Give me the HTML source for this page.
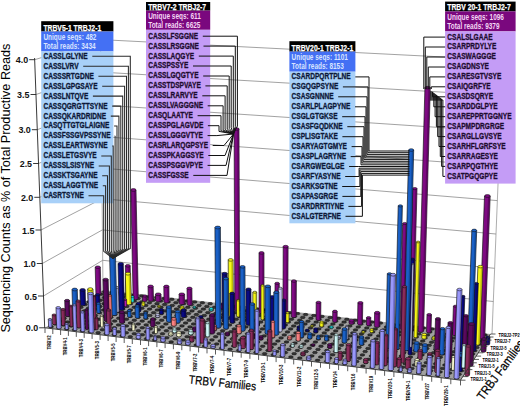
<!DOCTYPE html><html><head><meta charset="utf-8"><style>html,body{margin:0;padding:0;background:#fff;width:520px;height:407px;overflow:hidden}svg{display:block}text{font-family:"Liberation Sans",sans-serif}</style></head><body>
<svg width="520" height="407" viewBox="0 0 520 407">
<g fill="none" stroke="#7a7a7a" stroke-width="0.7"><polyline points="34.7,59.7 100.5,39.6 503,60"/><polyline points="36,94.5 100.8,72.1 501.5,95.6"/><polyline points="37.3,129.7 101.1,105 500.1,131.5"/><polyline points="38.6,163.5 101.5,136.5 498.7,166.1"/><polyline points="39.8,197.3 101.8,168.1 497.3,200.6"/><polyline points="41,230 102.1,198.7 496,234"/><polyline points="42.3,263.5 102.4,229.9 494.6,268.3"/><polyline points="43.5,296 102.7,260.3 493.3,301.5"/></g>
<line x1="103" y1="290" x2="100.5" y2="37" stroke="#8a8a8a" stroke-width="0.7"/>
<line x1="492" y1="334" x2="503" y2="60" stroke="#8a8a8a" stroke-width="0.7"/>
<polygon points="45,327.8 460.5,380.2 490.5,334 103,290" fill="#a0a0a0"/>
<g fill="#333" stroke="#111" stroke-width="0.5"><ellipse cx="51.1" cy="326.8" rx="2.4" ry="1.25"/><ellipse cx="58.9" cy="327.8" rx="2.4" ry="1.25"/><ellipse cx="66.7" cy="328.8" rx="2.4" ry="1.25"/><ellipse cx="74.5" cy="329.8" rx="2.4" ry="1.25"/><ellipse cx="82.4" cy="330.8" rx="2.4" ry="1.25"/><ellipse cx="90.3" cy="331.8" rx="2.4" ry="1.25"/><ellipse cx="98.2" cy="332.7" rx="2.4" ry="1.25"/><ellipse cx="106.2" cy="333.7" rx="2.4" ry="1.25"/><ellipse cx="114.2" cy="334.8" rx="2.4" ry="1.25"/><ellipse cx="122.2" cy="335.8" rx="2.4" ry="1.25"/><ellipse cx="130.3" cy="336.8" rx="2.4" ry="1.25"/><ellipse cx="138.4" cy="337.8" rx="2.4" ry="1.25"/><ellipse cx="146.5" cy="338.8" rx="2.4" ry="1.25"/><ellipse cx="154.7" cy="339.9" rx="2.4" ry="1.25"/><ellipse cx="163" cy="340.9" rx="2.4" ry="1.25"/><ellipse cx="171.2" cy="341.9" rx="2.4" ry="1.25"/><ellipse cx="179.5" cy="343" rx="2.4" ry="1.25"/><ellipse cx="187.9" cy="344" rx="2.4" ry="1.25"/><ellipse cx="196.2" cy="345.1" rx="2.4" ry="1.25"/><ellipse cx="204.6" cy="346.1" rx="2.4" ry="1.25"/><ellipse cx="213.1" cy="347.2" rx="2.4" ry="1.25"/><ellipse cx="221.6" cy="348.2" rx="2.4" ry="1.25"/><ellipse cx="230.1" cy="349.3" rx="2.4" ry="1.25"/><ellipse cx="238.7" cy="350.4" rx="2.4" ry="1.25"/><ellipse cx="247.3" cy="351.5" rx="2.4" ry="1.25"/><ellipse cx="255.9" cy="352.6" rx="2.4" ry="1.25"/><ellipse cx="264.6" cy="353.7" rx="2.4" ry="1.25"/><ellipse cx="273.3" cy="354.8" rx="2.4" ry="1.25"/><ellipse cx="282.1" cy="355.9" rx="2.4" ry="1.25"/><ellipse cx="290.9" cy="357" rx="2.4" ry="1.25"/><ellipse cx="299.8" cy="358.1" rx="2.4" ry="1.25"/><ellipse cx="308.7" cy="359.2" rx="2.4" ry="1.25"/><ellipse cx="317.6" cy="360.3" rx="2.4" ry="1.25"/><ellipse cx="326.6" cy="361.4" rx="2.4" ry="1.25"/><ellipse cx="335.6" cy="362.6" rx="2.4" ry="1.25"/><ellipse cx="344.7" cy="363.7" rx="2.4" ry="1.25"/><ellipse cx="353.8" cy="364.9" rx="2.4" ry="1.25"/><ellipse cx="362.9" cy="366" rx="2.4" ry="1.25"/><ellipse cx="372.1" cy="367.2" rx="2.4" ry="1.25"/><ellipse cx="381.3" cy="368.3" rx="2.4" ry="1.25"/><ellipse cx="390.6" cy="369.5" rx="2.4" ry="1.25"/><ellipse cx="399.9" cy="370.7" rx="2.4" ry="1.25"/><ellipse cx="409.3" cy="371.8" rx="2.4" ry="1.25"/><ellipse cx="418.7" cy="373" rx="2.4" ry="1.25"/><ellipse cx="428.2" cy="374.2" rx="2.4" ry="1.25"/><ellipse cx="437.7" cy="375.4" rx="2.4" ry="1.25"/><ellipse cx="447.2" cy="376.6" rx="2.4" ry="1.25"/><ellipse cx="456.8" cy="377.8" rx="2.4" ry="1.25"/><ellipse cx="55.5" cy="323.9" rx="2.4" ry="1.25"/><ellipse cx="63.2" cy="324.9" rx="2.4" ry="1.25"/><ellipse cx="71" cy="325.9" rx="2.4" ry="1.25"/><ellipse cx="78.8" cy="326.8" rx="2.4" ry="1.25"/><ellipse cx="86.6" cy="327.8" rx="2.4" ry="1.25"/><ellipse cx="94.5" cy="328.8" rx="2.4" ry="1.25"/><ellipse cx="102.4" cy="329.8" rx="2.4" ry="1.25"/><ellipse cx="110.3" cy="330.8" rx="2.4" ry="1.25"/><ellipse cx="118.3" cy="331.8" rx="2.4" ry="1.25"/><ellipse cx="126.3" cy="332.8" rx="2.4" ry="1.25"/><ellipse cx="134.3" cy="333.8" rx="2.4" ry="1.25"/><ellipse cx="142.4" cy="334.8" rx="2.4" ry="1.25"/><ellipse cx="150.5" cy="335.8" rx="2.4" ry="1.25"/><ellipse cx="158.7" cy="336.8" rx="2.4" ry="1.25"/><ellipse cx="166.8" cy="337.8" rx="2.4" ry="1.25"/><ellipse cx="175.1" cy="338.8" rx="2.4" ry="1.25"/><ellipse cx="183.3" cy="339.9" rx="2.4" ry="1.25"/><ellipse cx="191.6" cy="340.9" rx="2.4" ry="1.25"/><ellipse cx="200" cy="341.9" rx="2.4" ry="1.25"/><ellipse cx="208.3" cy="343" rx="2.4" ry="1.25"/><ellipse cx="216.7" cy="344" rx="2.4" ry="1.25"/><ellipse cx="225.2" cy="345.1" rx="2.4" ry="1.25"/><ellipse cx="233.7" cy="346.1" rx="2.4" ry="1.25"/><ellipse cx="242.2" cy="347.2" rx="2.4" ry="1.25"/><ellipse cx="250.8" cy="348.3" rx="2.4" ry="1.25"/><ellipse cx="259.4" cy="349.4" rx="2.4" ry="1.25"/><ellipse cx="268" cy="350.4" rx="2.4" ry="1.25"/><ellipse cx="276.7" cy="351.5" rx="2.4" ry="1.25"/><ellipse cx="285.4" cy="352.6" rx="2.4" ry="1.25"/><ellipse cx="294.2" cy="353.7" rx="2.4" ry="1.25"/><ellipse cx="303" cy="354.8" rx="2.4" ry="1.25"/><ellipse cx="311.8" cy="355.9" rx="2.4" ry="1.25"/><ellipse cx="320.7" cy="357" rx="2.4" ry="1.25"/><ellipse cx="329.6" cy="358.1" rx="2.4" ry="1.25"/><ellipse cx="338.6" cy="359.2" rx="2.4" ry="1.25"/><ellipse cx="347.6" cy="360.4" rx="2.4" ry="1.25"/><ellipse cx="356.7" cy="361.5" rx="2.4" ry="1.25"/><ellipse cx="365.8" cy="362.6" rx="2.4" ry="1.25"/><ellipse cx="374.9" cy="363.8" rx="2.4" ry="1.25"/><ellipse cx="384.1" cy="364.9" rx="2.4" ry="1.25"/><ellipse cx="393.3" cy="366.1" rx="2.4" ry="1.25"/><ellipse cx="402.6" cy="367.2" rx="2.4" ry="1.25"/><ellipse cx="411.9" cy="368.4" rx="2.4" ry="1.25"/><ellipse cx="421.3" cy="369.5" rx="2.4" ry="1.25"/><ellipse cx="430.7" cy="370.7" rx="2.4" ry="1.25"/><ellipse cx="440.1" cy="371.9" rx="2.4" ry="1.25"/><ellipse cx="449.6" cy="373.1" rx="2.4" ry="1.25"/><ellipse cx="459.2" cy="374.3" rx="2.4" ry="1.25"/><ellipse cx="59.9" cy="321.1" rx="2.4" ry="1.25"/><ellipse cx="67.6" cy="322" rx="2.4" ry="1.25"/><ellipse cx="75.3" cy="323" rx="2.4" ry="1.25"/><ellipse cx="83" cy="324" rx="2.4" ry="1.25"/><ellipse cx="90.8" cy="324.9" rx="2.4" ry="1.25"/><ellipse cx="98.7" cy="325.9" rx="2.4" ry="1.25"/><ellipse cx="106.5" cy="326.9" rx="2.4" ry="1.25"/><ellipse cx="114.4" cy="327.8" rx="2.4" ry="1.25"/><ellipse cx="122.4" cy="328.8" rx="2.4" ry="1.25"/><ellipse cx="130.3" cy="329.8" rx="2.4" ry="1.25"/><ellipse cx="138.3" cy="330.8" rx="2.4" ry="1.25"/><ellipse cx="146.4" cy="331.8" rx="2.4" ry="1.25"/><ellipse cx="154.4" cy="332.8" rx="2.4" ry="1.25"/><ellipse cx="162.5" cy="333.8" rx="2.4" ry="1.25"/><ellipse cx="170.7" cy="334.8" rx="2.4" ry="1.25"/><ellipse cx="178.9" cy="335.8" rx="2.4" ry="1.25"/><ellipse cx="187.1" cy="336.8" rx="2.4" ry="1.25"/><ellipse cx="195.3" cy="337.8" rx="2.4" ry="1.25"/><ellipse cx="203.6" cy="338.9" rx="2.4" ry="1.25"/><ellipse cx="212" cy="339.9" rx="2.4" ry="1.25"/><ellipse cx="220.3" cy="340.9" rx="2.4" ry="1.25"/><ellipse cx="228.7" cy="342" rx="2.4" ry="1.25"/><ellipse cx="237.2" cy="343" rx="2.4" ry="1.25"/><ellipse cx="245.7" cy="344.1" rx="2.4" ry="1.25"/><ellipse cx="254.2" cy="345.1" rx="2.4" ry="1.25"/><ellipse cx="262.7" cy="346.2" rx="2.4" ry="1.25"/><ellipse cx="271.3" cy="347.2" rx="2.4" ry="1.25"/><ellipse cx="280" cy="348.3" rx="2.4" ry="1.25"/><ellipse cx="288.7" cy="349.4" rx="2.4" ry="1.25"/><ellipse cx="297.4" cy="350.5" rx="2.4" ry="1.25"/><ellipse cx="306.1" cy="351.5" rx="2.4" ry="1.25"/><ellipse cx="314.9" cy="352.6" rx="2.4" ry="1.25"/><ellipse cx="323.8" cy="353.7" rx="2.4" ry="1.25"/><ellipse cx="332.7" cy="354.8" rx="2.4" ry="1.25"/><ellipse cx="341.6" cy="355.9" rx="2.4" ry="1.25"/><ellipse cx="350.5" cy="357" rx="2.4" ry="1.25"/><ellipse cx="359.5" cy="358.2" rx="2.4" ry="1.25"/><ellipse cx="368.6" cy="359.3" rx="2.4" ry="1.25"/><ellipse cx="377.7" cy="360.4" rx="2.4" ry="1.25"/><ellipse cx="386.8" cy="361.5" rx="2.4" ry="1.25"/><ellipse cx="396" cy="362.7" rx="2.4" ry="1.25"/><ellipse cx="405.2" cy="363.8" rx="2.4" ry="1.25"/><ellipse cx="414.5" cy="364.9" rx="2.4" ry="1.25"/><ellipse cx="423.8" cy="366.1" rx="2.4" ry="1.25"/><ellipse cx="433.2" cy="367.3" rx="2.4" ry="1.25"/><ellipse cx="442.6" cy="368.4" rx="2.4" ry="1.25"/><ellipse cx="452" cy="369.6" rx="2.4" ry="1.25"/><ellipse cx="461.5" cy="370.8" rx="2.4" ry="1.25"/><ellipse cx="64.2" cy="318.3" rx="2.4" ry="1.25"/><ellipse cx="71.8" cy="319.2" rx="2.4" ry="1.25"/><ellipse cx="79.5" cy="320.1" rx="2.4" ry="1.25"/><ellipse cx="87.2" cy="321.1" rx="2.4" ry="1.25"/><ellipse cx="95" cy="322" rx="2.4" ry="1.25"/><ellipse cx="102.8" cy="323" rx="2.4" ry="1.25"/><ellipse cx="110.6" cy="324" rx="2.4" ry="1.25"/><ellipse cx="118.5" cy="324.9" rx="2.4" ry="1.25"/><ellipse cx="126.4" cy="325.9" rx="2.4" ry="1.25"/><ellipse cx="134.3" cy="326.9" rx="2.4" ry="1.25"/><ellipse cx="142.3" cy="327.8" rx="2.4" ry="1.25"/><ellipse cx="150.3" cy="328.8" rx="2.4" ry="1.25"/><ellipse cx="158.3" cy="329.8" rx="2.4" ry="1.25"/><ellipse cx="166.4" cy="330.8" rx="2.4" ry="1.25"/><ellipse cx="174.5" cy="331.8" rx="2.4" ry="1.25"/><ellipse cx="182.6" cy="332.8" rx="2.4" ry="1.25"/><ellipse cx="190.8" cy="333.8" rx="2.4" ry="1.25"/><ellipse cx="199" cy="334.8" rx="2.4" ry="1.25"/><ellipse cx="207.3" cy="335.8" rx="2.4" ry="1.25"/><ellipse cx="215.6" cy="336.8" rx="2.4" ry="1.25"/><ellipse cx="223.9" cy="337.9" rx="2.4" ry="1.25"/><ellipse cx="232.3" cy="338.9" rx="2.4" ry="1.25"/><ellipse cx="240.7" cy="339.9" rx="2.4" ry="1.25"/><ellipse cx="249.1" cy="341" rx="2.4" ry="1.25"/><ellipse cx="257.6" cy="342" rx="2.4" ry="1.25"/><ellipse cx="266.1" cy="343" rx="2.4" ry="1.25"/><ellipse cx="274.6" cy="344.1" rx="2.4" ry="1.25"/><ellipse cx="283.2" cy="345.1" rx="2.4" ry="1.25"/><ellipse cx="291.9" cy="346.2" rx="2.4" ry="1.25"/><ellipse cx="300.5" cy="347.3" rx="2.4" ry="1.25"/><ellipse cx="309.3" cy="348.3" rx="2.4" ry="1.25"/><ellipse cx="318" cy="349.4" rx="2.4" ry="1.25"/><ellipse cx="326.8" cy="350.5" rx="2.4" ry="1.25"/><ellipse cx="335.6" cy="351.6" rx="2.4" ry="1.25"/><ellipse cx="344.5" cy="352.7" rx="2.4" ry="1.25"/><ellipse cx="353.4" cy="353.8" rx="2.4" ry="1.25"/><ellipse cx="362.4" cy="354.9" rx="2.4" ry="1.25"/><ellipse cx="371.4" cy="356" rx="2.4" ry="1.25"/><ellipse cx="380.4" cy="357.1" rx="2.4" ry="1.25"/><ellipse cx="389.5" cy="358.2" rx="2.4" ry="1.25"/><ellipse cx="398.6" cy="359.3" rx="2.4" ry="1.25"/><ellipse cx="407.8" cy="360.4" rx="2.4" ry="1.25"/><ellipse cx="417" cy="361.6" rx="2.4" ry="1.25"/><ellipse cx="426.3" cy="362.7" rx="2.4" ry="1.25"/><ellipse cx="435.6" cy="363.8" rx="2.4" ry="1.25"/><ellipse cx="444.9" cy="365" rx="2.4" ry="1.25"/><ellipse cx="454.3" cy="366.1" rx="2.4" ry="1.25"/><ellipse cx="463.8" cy="367.3" rx="2.4" ry="1.25"/><ellipse cx="68.4" cy="315.5" rx="2.4" ry="1.25"/><ellipse cx="76.1" cy="316.4" rx="2.4" ry="1.25"/><ellipse cx="83.7" cy="317.3" rx="2.4" ry="1.25"/><ellipse cx="91.4" cy="318.3" rx="2.4" ry="1.25"/><ellipse cx="99.1" cy="319.2" rx="2.4" ry="1.25"/><ellipse cx="106.9" cy="320.2" rx="2.4" ry="1.25"/><ellipse cx="114.7" cy="321.1" rx="2.4" ry="1.25"/><ellipse cx="122.5" cy="322.1" rx="2.4" ry="1.25"/><ellipse cx="130.4" cy="323" rx="2.4" ry="1.25"/><ellipse cx="138.3" cy="324" rx="2.4" ry="1.25"/><ellipse cx="146.2" cy="324.9" rx="2.4" ry="1.25"/><ellipse cx="154.1" cy="325.9" rx="2.4" ry="1.25"/><ellipse cx="162.1" cy="326.9" rx="2.4" ry="1.25"/><ellipse cx="170.2" cy="327.9" rx="2.4" ry="1.25"/><ellipse cx="178.2" cy="328.8" rx="2.4" ry="1.25"/><ellipse cx="186.3" cy="329.8" rx="2.4" ry="1.25"/><ellipse cx="194.5" cy="330.8" rx="2.4" ry="1.25"/><ellipse cx="202.7" cy="331.8" rx="2.4" ry="1.25"/><ellipse cx="210.9" cy="332.8" rx="2.4" ry="1.25"/><ellipse cx="219.1" cy="333.8" rx="2.4" ry="1.25"/><ellipse cx="227.4" cy="334.8" rx="2.4" ry="1.25"/><ellipse cx="235.7" cy="335.8" rx="2.4" ry="1.25"/><ellipse cx="244.1" cy="336.9" rx="2.4" ry="1.25"/><ellipse cx="252.5" cy="337.9" rx="2.4" ry="1.25"/><ellipse cx="260.9" cy="338.9" rx="2.4" ry="1.25"/><ellipse cx="269.4" cy="339.9" rx="2.4" ry="1.25"/><ellipse cx="277.9" cy="341" rx="2.4" ry="1.25"/><ellipse cx="286.5" cy="342" rx="2.4" ry="1.25"/><ellipse cx="295" cy="343.1" rx="2.4" ry="1.25"/><ellipse cx="303.7" cy="344.1" rx="2.4" ry="1.25"/><ellipse cx="312.3" cy="345.2" rx="2.4" ry="1.25"/><ellipse cx="321" cy="346.2" rx="2.4" ry="1.25"/><ellipse cx="329.8" cy="347.3" rx="2.4" ry="1.25"/><ellipse cx="338.6" cy="348.4" rx="2.4" ry="1.25"/><ellipse cx="347.4" cy="349.5" rx="2.4" ry="1.25"/><ellipse cx="356.3" cy="350.5" rx="2.4" ry="1.25"/><ellipse cx="365.2" cy="351.6" rx="2.4" ry="1.25"/><ellipse cx="374.1" cy="352.7" rx="2.4" ry="1.25"/><ellipse cx="383.1" cy="353.8" rx="2.4" ry="1.25"/><ellipse cx="392.2" cy="354.9" rx="2.4" ry="1.25"/><ellipse cx="401.3" cy="356" rx="2.4" ry="1.25"/><ellipse cx="410.4" cy="357.1" rx="2.4" ry="1.25"/><ellipse cx="419.5" cy="358.2" rx="2.4" ry="1.25"/><ellipse cx="428.7" cy="359.4" rx="2.4" ry="1.25"/><ellipse cx="438" cy="360.5" rx="2.4" ry="1.25"/><ellipse cx="447.3" cy="361.6" rx="2.4" ry="1.25"/><ellipse cx="456.6" cy="362.8" rx="2.4" ry="1.25"/><ellipse cx="466" cy="363.9" rx="2.4" ry="1.25"/><ellipse cx="72.6" cy="312.7" rx="2.4" ry="1.25"/><ellipse cx="80.2" cy="313.6" rx="2.4" ry="1.25"/><ellipse cx="87.9" cy="314.5" rx="2.4" ry="1.25"/><ellipse cx="95.5" cy="315.5" rx="2.4" ry="1.25"/><ellipse cx="103.2" cy="316.4" rx="2.4" ry="1.25"/><ellipse cx="110.9" cy="317.3" rx="2.4" ry="1.25"/><ellipse cx="118.7" cy="318.3" rx="2.4" ry="1.25"/><ellipse cx="126.5" cy="319.2" rx="2.4" ry="1.25"/><ellipse cx="134.3" cy="320.2" rx="2.4" ry="1.25"/><ellipse cx="142.2" cy="321.1" rx="2.4" ry="1.25"/><ellipse cx="150" cy="322.1" rx="2.4" ry="1.25"/><ellipse cx="158" cy="323" rx="2.4" ry="1.25"/><ellipse cx="165.9" cy="324" rx="2.4" ry="1.25"/><ellipse cx="173.9" cy="324.9" rx="2.4" ry="1.25"/><ellipse cx="182" cy="325.9" rx="2.4" ry="1.25"/><ellipse cx="190" cy="326.9" rx="2.4" ry="1.25"/><ellipse cx="198.1" cy="327.9" rx="2.4" ry="1.25"/><ellipse cx="206.3" cy="328.9" rx="2.4" ry="1.25"/><ellipse cx="214.4" cy="329.8" rx="2.4" ry="1.25"/><ellipse cx="222.6" cy="330.8" rx="2.4" ry="1.25"/><ellipse cx="230.9" cy="331.8" rx="2.4" ry="1.25"/><ellipse cx="239.2" cy="332.8" rx="2.4" ry="1.25"/><ellipse cx="247.5" cy="333.8" rx="2.4" ry="1.25"/><ellipse cx="255.8" cy="334.9" rx="2.4" ry="1.25"/><ellipse cx="264.2" cy="335.9" rx="2.4" ry="1.25"/><ellipse cx="272.7" cy="336.9" rx="2.4" ry="1.25"/><ellipse cx="281.1" cy="337.9" rx="2.4" ry="1.25"/><ellipse cx="289.6" cy="338.9" rx="2.4" ry="1.25"/><ellipse cx="298.2" cy="340" rx="2.4" ry="1.25"/><ellipse cx="306.8" cy="341" rx="2.4" ry="1.25"/><ellipse cx="315.4" cy="342.1" rx="2.4" ry="1.25"/><ellipse cx="324.1" cy="343.1" rx="2.4" ry="1.25"/><ellipse cx="332.8" cy="344.1" rx="2.4" ry="1.25"/><ellipse cx="341.5" cy="345.2" rx="2.4" ry="1.25"/><ellipse cx="350.3" cy="346.3" rx="2.4" ry="1.25"/><ellipse cx="359.1" cy="347.3" rx="2.4" ry="1.25"/><ellipse cx="368" cy="348.4" rx="2.4" ry="1.25"/><ellipse cx="376.9" cy="349.5" rx="2.4" ry="1.25"/><ellipse cx="385.8" cy="350.6" rx="2.4" ry="1.25"/><ellipse cx="394.8" cy="351.7" rx="2.4" ry="1.25"/><ellipse cx="403.8" cy="352.7" rx="2.4" ry="1.25"/><ellipse cx="412.9" cy="353.8" rx="2.4" ry="1.25"/><ellipse cx="422" cy="354.9" rx="2.4" ry="1.25"/><ellipse cx="431.2" cy="356" rx="2.4" ry="1.25"/><ellipse cx="440.4" cy="357.2" rx="2.4" ry="1.25"/><ellipse cx="449.6" cy="358.3" rx="2.4" ry="1.25"/><ellipse cx="458.9" cy="359.4" rx="2.4" ry="1.25"/><ellipse cx="468.2" cy="360.5" rx="2.4" ry="1.25"/><ellipse cx="76.8" cy="310" rx="2.4" ry="1.25"/><ellipse cx="84.4" cy="310.9" rx="2.4" ry="1.25"/><ellipse cx="92" cy="311.8" rx="2.4" ry="1.25"/><ellipse cx="99.6" cy="312.7" rx="2.4" ry="1.25"/><ellipse cx="107.2" cy="313.6" rx="2.4" ry="1.25"/><ellipse cx="114.9" cy="314.5" rx="2.4" ry="1.25"/><ellipse cx="122.6" cy="315.5" rx="2.4" ry="1.25"/><ellipse cx="130.4" cy="316.4" rx="2.4" ry="1.25"/><ellipse cx="138.2" cy="317.3" rx="2.4" ry="1.25"/><ellipse cx="146" cy="318.3" rx="2.4" ry="1.25"/><ellipse cx="153.9" cy="319.2" rx="2.4" ry="1.25"/><ellipse cx="161.7" cy="320.2" rx="2.4" ry="1.25"/><ellipse cx="169.7" cy="321.1" rx="2.4" ry="1.25"/><ellipse cx="177.6" cy="322.1" rx="2.4" ry="1.25"/><ellipse cx="185.6" cy="323" rx="2.4" ry="1.25"/><ellipse cx="193.6" cy="324" rx="2.4" ry="1.25"/><ellipse cx="201.7" cy="325" rx="2.4" ry="1.25"/><ellipse cx="209.8" cy="325.9" rx="2.4" ry="1.25"/><ellipse cx="217.9" cy="326.9" rx="2.4" ry="1.25"/><ellipse cx="226.1" cy="327.9" rx="2.4" ry="1.25"/><ellipse cx="234.3" cy="328.9" rx="2.4" ry="1.25"/><ellipse cx="242.6" cy="329.9" rx="2.4" ry="1.25"/><ellipse cx="250.8" cy="330.9" rx="2.4" ry="1.25"/><ellipse cx="259.1" cy="331.9" rx="2.4" ry="1.25"/><ellipse cx="267.5" cy="332.9" rx="2.4" ry="1.25"/><ellipse cx="275.9" cy="333.9" rx="2.4" ry="1.25"/><ellipse cx="284.3" cy="334.9" rx="2.4" ry="1.25"/><ellipse cx="292.8" cy="335.9" rx="2.4" ry="1.25"/><ellipse cx="301.3" cy="336.9" rx="2.4" ry="1.25"/><ellipse cx="309.8" cy="337.9" rx="2.4" ry="1.25"/><ellipse cx="318.4" cy="339" rx="2.4" ry="1.25"/><ellipse cx="327" cy="340" rx="2.4" ry="1.25"/><ellipse cx="335.7" cy="341" rx="2.4" ry="1.25"/><ellipse cx="344.4" cy="342.1" rx="2.4" ry="1.25"/><ellipse cx="353.1" cy="343.1" rx="2.4" ry="1.25"/><ellipse cx="361.9" cy="344.2" rx="2.4" ry="1.25"/><ellipse cx="370.7" cy="345.2" rx="2.4" ry="1.25"/><ellipse cx="379.6" cy="346.3" rx="2.4" ry="1.25"/><ellipse cx="388.5" cy="347.4" rx="2.4" ry="1.25"/><ellipse cx="397.4" cy="348.4" rx="2.4" ry="1.25"/><ellipse cx="406.4" cy="349.5" rx="2.4" ry="1.25"/><ellipse cx="415.4" cy="350.6" rx="2.4" ry="1.25"/><ellipse cx="424.5" cy="351.7" rx="2.4" ry="1.25"/><ellipse cx="433.6" cy="352.8" rx="2.4" ry="1.25"/><ellipse cx="442.7" cy="353.9" rx="2.4" ry="1.25"/><ellipse cx="451.9" cy="355" rx="2.4" ry="1.25"/><ellipse cx="461.1" cy="356.1" rx="2.4" ry="1.25"/><ellipse cx="470.4" cy="357.2" rx="2.4" ry="1.25"/><ellipse cx="80.9" cy="307.3" rx="2.4" ry="1.25"/><ellipse cx="88.5" cy="308.2" rx="2.4" ry="1.25"/><ellipse cx="96" cy="309.1" rx="2.4" ry="1.25"/><ellipse cx="103.6" cy="310" rx="2.4" ry="1.25"/><ellipse cx="111.2" cy="310.9" rx="2.4" ry="1.25"/><ellipse cx="118.9" cy="311.8" rx="2.4" ry="1.25"/><ellipse cx="126.6" cy="312.7" rx="2.4" ry="1.25"/><ellipse cx="134.3" cy="313.6" rx="2.4" ry="1.25"/><ellipse cx="142" cy="314.5" rx="2.4" ry="1.25"/><ellipse cx="149.8" cy="315.5" rx="2.4" ry="1.25"/><ellipse cx="157.6" cy="316.4" rx="2.4" ry="1.25"/><ellipse cx="165.5" cy="317.3" rx="2.4" ry="1.25"/><ellipse cx="173.4" cy="318.3" rx="2.4" ry="1.25"/><ellipse cx="181.3" cy="319.2" rx="2.4" ry="1.25"/><ellipse cx="189.2" cy="320.2" rx="2.4" ry="1.25"/><ellipse cx="197.2" cy="321.1" rx="2.4" ry="1.25"/><ellipse cx="205.3" cy="322.1" rx="2.4" ry="1.25"/><ellipse cx="213.3" cy="323" rx="2.4" ry="1.25"/><ellipse cx="221.4" cy="324" rx="2.4" ry="1.25"/><ellipse cx="229.5" cy="325" rx="2.4" ry="1.25"/><ellipse cx="237.7" cy="325.9" rx="2.4" ry="1.25"/><ellipse cx="245.9" cy="326.9" rx="2.4" ry="1.25"/><ellipse cx="254.1" cy="327.9" rx="2.4" ry="1.25"/><ellipse cx="262.4" cy="328.9" rx="2.4" ry="1.25"/><ellipse cx="270.7" cy="329.9" rx="2.4" ry="1.25"/><ellipse cx="279.1" cy="330.9" rx="2.4" ry="1.25"/><ellipse cx="287.5" cy="331.9" rx="2.4" ry="1.25"/><ellipse cx="295.9" cy="332.9" rx="2.4" ry="1.25"/><ellipse cx="304.3" cy="333.9" rx="2.4" ry="1.25"/><ellipse cx="312.8" cy="334.9" rx="2.4" ry="1.25"/><ellipse cx="321.4" cy="335.9" rx="2.4" ry="1.25"/><ellipse cx="330" cy="336.9" rx="2.4" ry="1.25"/><ellipse cx="338.6" cy="338" rx="2.4" ry="1.25"/><ellipse cx="347.2" cy="339" rx="2.4" ry="1.25"/><ellipse cx="355.9" cy="340" rx="2.4" ry="1.25"/><ellipse cx="364.6" cy="341.1" rx="2.4" ry="1.25"/><ellipse cx="373.4" cy="342.1" rx="2.4" ry="1.25"/><ellipse cx="382.2" cy="343.2" rx="2.4" ry="1.25"/><ellipse cx="391.1" cy="344.2" rx="2.4" ry="1.25"/><ellipse cx="400" cy="345.3" rx="2.4" ry="1.25"/><ellipse cx="408.9" cy="346.3" rx="2.4" ry="1.25"/><ellipse cx="417.9" cy="347.4" rx="2.4" ry="1.25"/><ellipse cx="426.9" cy="348.5" rx="2.4" ry="1.25"/><ellipse cx="435.9" cy="349.5" rx="2.4" ry="1.25"/><ellipse cx="445" cy="350.6" rx="2.4" ry="1.25"/><ellipse cx="454.2" cy="351.7" rx="2.4" ry="1.25"/><ellipse cx="463.4" cy="352.8" rx="2.4" ry="1.25"/><ellipse cx="472.6" cy="353.9" rx="2.4" ry="1.25"/><ellipse cx="85" cy="304.6" rx="2.4" ry="1.25"/><ellipse cx="92.5" cy="305.5" rx="2.4" ry="1.25"/><ellipse cx="100" cy="306.4" rx="2.4" ry="1.25"/><ellipse cx="107.6" cy="307.3" rx="2.4" ry="1.25"/><ellipse cx="115.2" cy="308.2" rx="2.4" ry="1.25"/><ellipse cx="122.8" cy="309.1" rx="2.4" ry="1.25"/><ellipse cx="130.4" cy="310" rx="2.4" ry="1.25"/><ellipse cx="138.1" cy="310.9" rx="2.4" ry="1.25"/><ellipse cx="145.8" cy="311.8" rx="2.4" ry="1.25"/><ellipse cx="153.6" cy="312.7" rx="2.4" ry="1.25"/><ellipse cx="161.4" cy="313.6" rx="2.4" ry="1.25"/><ellipse cx="169.2" cy="314.6" rx="2.4" ry="1.25"/><ellipse cx="177" cy="315.5" rx="2.4" ry="1.25"/><ellipse cx="184.9" cy="316.4" rx="2.4" ry="1.25"/><ellipse cx="192.8" cy="317.3" rx="2.4" ry="1.25"/><ellipse cx="200.8" cy="318.3" rx="2.4" ry="1.25"/><ellipse cx="208.8" cy="319.2" rx="2.4" ry="1.25"/><ellipse cx="216.8" cy="320.2" rx="2.4" ry="1.25"/><ellipse cx="224.8" cy="321.1" rx="2.4" ry="1.25"/><ellipse cx="232.9" cy="322.1" rx="2.4" ry="1.25"/><ellipse cx="241.1" cy="323" rx="2.4" ry="1.25"/><ellipse cx="249.2" cy="324" rx="2.4" ry="1.25"/><ellipse cx="257.4" cy="325" rx="2.4" ry="1.25"/><ellipse cx="265.7" cy="326" rx="2.4" ry="1.25"/><ellipse cx="273.9" cy="326.9" rx="2.4" ry="1.25"/><ellipse cx="282.2" cy="327.9" rx="2.4" ry="1.25"/><ellipse cx="290.6" cy="328.9" rx="2.4" ry="1.25"/><ellipse cx="299" cy="329.9" rx="2.4" ry="1.25"/><ellipse cx="307.4" cy="330.9" rx="2.4" ry="1.25"/><ellipse cx="315.8" cy="331.9" rx="2.4" ry="1.25"/><ellipse cx="324.3" cy="332.9" rx="2.4" ry="1.25"/><ellipse cx="332.8" cy="333.9" rx="2.4" ry="1.25"/><ellipse cx="341.4" cy="334.9" rx="2.4" ry="1.25"/><ellipse cx="350" cy="335.9" rx="2.4" ry="1.25"/><ellipse cx="358.7" cy="336.9" rx="2.4" ry="1.25"/><ellipse cx="367.4" cy="338" rx="2.4" ry="1.25"/><ellipse cx="376.1" cy="339" rx="2.4" ry="1.25"/><ellipse cx="384.8" cy="340" rx="2.4" ry="1.25"/><ellipse cx="393.6" cy="341.1" rx="2.4" ry="1.25"/><ellipse cx="402.5" cy="342.1" rx="2.4" ry="1.25"/><ellipse cx="411.4" cy="343.2" rx="2.4" ry="1.25"/><ellipse cx="420.3" cy="344.2" rx="2.4" ry="1.25"/><ellipse cx="429.3" cy="345.3" rx="2.4" ry="1.25"/><ellipse cx="438.3" cy="346.4" rx="2.4" ry="1.25"/><ellipse cx="447.3" cy="347.4" rx="2.4" ry="1.25"/><ellipse cx="456.4" cy="348.5" rx="2.4" ry="1.25"/><ellipse cx="465.5" cy="349.6" rx="2.4" ry="1.25"/><ellipse cx="474.7" cy="350.7" rx="2.4" ry="1.25"/><ellipse cx="89" cy="302" rx="2.4" ry="1.25"/><ellipse cx="96.5" cy="302.8" rx="2.4" ry="1.25"/><ellipse cx="104" cy="303.7" rx="2.4" ry="1.25"/><ellipse cx="111.5" cy="304.6" rx="2.4" ry="1.25"/><ellipse cx="119.1" cy="305.5" rx="2.4" ry="1.25"/><ellipse cx="126.7" cy="306.4" rx="2.4" ry="1.25"/><ellipse cx="134.3" cy="307.3" rx="2.4" ry="1.25"/><ellipse cx="141.9" cy="308.2" rx="2.4" ry="1.25"/><ellipse cx="149.6" cy="309.1" rx="2.4" ry="1.25"/><ellipse cx="157.3" cy="310" rx="2.4" ry="1.25"/><ellipse cx="165.1" cy="310.9" rx="2.4" ry="1.25"/><ellipse cx="172.8" cy="311.8" rx="2.4" ry="1.25"/><ellipse cx="180.7" cy="312.7" rx="2.4" ry="1.25"/><ellipse cx="188.5" cy="313.6" rx="2.4" ry="1.25"/><ellipse cx="196.4" cy="314.6" rx="2.4" ry="1.25"/><ellipse cx="204.3" cy="315.5" rx="2.4" ry="1.25"/><ellipse cx="212.2" cy="316.4" rx="2.4" ry="1.25"/><ellipse cx="220.2" cy="317.4" rx="2.4" ry="1.25"/><ellipse cx="228.2" cy="318.3" rx="2.4" ry="1.25"/><ellipse cx="236.3" cy="319.2" rx="2.4" ry="1.25"/><ellipse cx="244.4" cy="320.2" rx="2.4" ry="1.25"/><ellipse cx="252.5" cy="321.1" rx="2.4" ry="1.25"/><ellipse cx="260.7" cy="322.1" rx="2.4" ry="1.25"/><ellipse cx="268.9" cy="323.1" rx="2.4" ry="1.25"/><ellipse cx="277.1" cy="324" rx="2.4" ry="1.25"/><ellipse cx="285.3" cy="325" rx="2.4" ry="1.25"/><ellipse cx="293.7" cy="326" rx="2.4" ry="1.25"/><ellipse cx="302" cy="326.9" rx="2.4" ry="1.25"/><ellipse cx="310.4" cy="327.9" rx="2.4" ry="1.25"/><ellipse cx="318.8" cy="328.9" rx="2.4" ry="1.25"/><ellipse cx="327.2" cy="329.9" rx="2.4" ry="1.25"/><ellipse cx="335.7" cy="330.9" rx="2.4" ry="1.25"/><ellipse cx="344.2" cy="331.9" rx="2.4" ry="1.25"/><ellipse cx="352.8" cy="332.9" rx="2.4" ry="1.25"/><ellipse cx="361.4" cy="333.9" rx="2.4" ry="1.25"/><ellipse cx="370" cy="334.9" rx="2.4" ry="1.25"/><ellipse cx="378.7" cy="335.9" rx="2.4" ry="1.25"/><ellipse cx="387.4" cy="337" rx="2.4" ry="1.25"/><ellipse cx="396.2" cy="338" rx="2.4" ry="1.25"/><ellipse cx="405" cy="339" rx="2.4" ry="1.25"/><ellipse cx="413.8" cy="340.1" rx="2.4" ry="1.25"/><ellipse cx="422.7" cy="341.1" rx="2.4" ry="1.25"/><ellipse cx="431.6" cy="342.2" rx="2.4" ry="1.25"/><ellipse cx="440.6" cy="343.2" rx="2.4" ry="1.25"/><ellipse cx="449.6" cy="344.3" rx="2.4" ry="1.25"/><ellipse cx="458.6" cy="345.3" rx="2.4" ry="1.25"/><ellipse cx="467.7" cy="346.4" rx="2.4" ry="1.25"/><ellipse cx="476.8" cy="347.5" rx="2.4" ry="1.25"/><ellipse cx="93" cy="299.3" rx="2.4" ry="1.25"/><ellipse cx="100.5" cy="300.2" rx="2.4" ry="1.25"/><ellipse cx="107.9" cy="301.1" rx="2.4" ry="1.25"/><ellipse cx="115.4" cy="301.9" rx="2.4" ry="1.25"/><ellipse cx="122.9" cy="302.8" rx="2.4" ry="1.25"/><ellipse cx="130.5" cy="303.7" rx="2.4" ry="1.25"/><ellipse cx="138.1" cy="304.6" rx="2.4" ry="1.25"/><ellipse cx="145.7" cy="305.5" rx="2.4" ry="1.25"/><ellipse cx="153.3" cy="306.4" rx="2.4" ry="1.25"/><ellipse cx="161" cy="307.3" rx="2.4" ry="1.25"/><ellipse cx="168.7" cy="308.2" rx="2.4" ry="1.25"/><ellipse cx="176.5" cy="309.1" rx="2.4" ry="1.25"/><ellipse cx="184.2" cy="310" rx="2.4" ry="1.25"/><ellipse cx="192" cy="310.9" rx="2.4" ry="1.25"/><ellipse cx="199.9" cy="311.8" rx="2.4" ry="1.25"/><ellipse cx="207.8" cy="312.7" rx="2.4" ry="1.25"/><ellipse cx="215.7" cy="313.6" rx="2.4" ry="1.25"/><ellipse cx="223.6" cy="314.6" rx="2.4" ry="1.25"/><ellipse cx="231.6" cy="315.5" rx="2.4" ry="1.25"/><ellipse cx="239.6" cy="316.4" rx="2.4" ry="1.25"/><ellipse cx="247.7" cy="317.4" rx="2.4" ry="1.25"/><ellipse cx="255.7" cy="318.3" rx="2.4" ry="1.25"/><ellipse cx="263.9" cy="319.2" rx="2.4" ry="1.25"/><ellipse cx="272" cy="320.2" rx="2.4" ry="1.25"/><ellipse cx="280.2" cy="321.1" rx="2.4" ry="1.25"/><ellipse cx="288.4" cy="322.1" rx="2.4" ry="1.25"/><ellipse cx="296.7" cy="323.1" rx="2.4" ry="1.25"/><ellipse cx="305" cy="324" rx="2.4" ry="1.25"/><ellipse cx="313.3" cy="325" rx="2.4" ry="1.25"/><ellipse cx="321.7" cy="326" rx="2.4" ry="1.25"/><ellipse cx="330.1" cy="327" rx="2.4" ry="1.25"/><ellipse cx="338.5" cy="327.9" rx="2.4" ry="1.25"/><ellipse cx="347" cy="328.9" rx="2.4" ry="1.25"/><ellipse cx="355.5" cy="329.9" rx="2.4" ry="1.25"/><ellipse cx="364.1" cy="330.9" rx="2.4" ry="1.25"/><ellipse cx="372.7" cy="331.9" rx="2.4" ry="1.25"/><ellipse cx="381.3" cy="332.9" rx="2.4" ry="1.25"/><ellipse cx="390" cy="333.9" rx="2.4" ry="1.25"/><ellipse cx="398.7" cy="334.9" rx="2.4" ry="1.25"/><ellipse cx="407.5" cy="336" rx="2.4" ry="1.25"/><ellipse cx="416.3" cy="337" rx="2.4" ry="1.25"/><ellipse cx="425.1" cy="338" rx="2.4" ry="1.25"/><ellipse cx="434" cy="339.1" rx="2.4" ry="1.25"/><ellipse cx="442.9" cy="340.1" rx="2.4" ry="1.25"/><ellipse cx="451.8" cy="341.1" rx="2.4" ry="1.25"/><ellipse cx="460.8" cy="342.2" rx="2.4" ry="1.25"/><ellipse cx="469.8" cy="343.2" rx="2.4" ry="1.25"/><ellipse cx="478.9" cy="344.3" rx="2.4" ry="1.25"/><ellipse cx="97" cy="296.8" rx="2.4" ry="1.25"/><ellipse cx="104.4" cy="297.6" rx="2.4" ry="1.25"/><ellipse cx="111.8" cy="298.5" rx="2.4" ry="1.25"/><ellipse cx="119.2" cy="299.3" rx="2.4" ry="1.25"/><ellipse cx="126.7" cy="300.2" rx="2.4" ry="1.25"/><ellipse cx="134.3" cy="301.1" rx="2.4" ry="1.25"/><ellipse cx="141.8" cy="301.9" rx="2.4" ry="1.25"/><ellipse cx="149.4" cy="302.8" rx="2.4" ry="1.25"/><ellipse cx="157" cy="303.7" rx="2.4" ry="1.25"/><ellipse cx="164.6" cy="304.6" rx="2.4" ry="1.25"/><ellipse cx="172.3" cy="305.5" rx="2.4" ry="1.25"/><ellipse cx="180" cy="306.4" rx="2.4" ry="1.25"/><ellipse cx="187.8" cy="307.3" rx="2.4" ry="1.25"/><ellipse cx="195.5" cy="308.2" rx="2.4" ry="1.25"/><ellipse cx="203.4" cy="309.1" rx="2.4" ry="1.25"/><ellipse cx="211.2" cy="310" rx="2.4" ry="1.25"/><ellipse cx="219.1" cy="310.9" rx="2.4" ry="1.25"/><ellipse cx="227" cy="311.8" rx="2.4" ry="1.25"/><ellipse cx="234.9" cy="312.7" rx="2.4" ry="1.25"/><ellipse cx="242.9" cy="313.6" rx="2.4" ry="1.25"/><ellipse cx="250.9" cy="314.6" rx="2.4" ry="1.25"/><ellipse cx="259" cy="315.5" rx="2.4" ry="1.25"/><ellipse cx="267" cy="316.4" rx="2.4" ry="1.25"/><ellipse cx="275.1" cy="317.4" rx="2.4" ry="1.25"/><ellipse cx="283.3" cy="318.3" rx="2.4" ry="1.25"/><ellipse cx="291.5" cy="319.2" rx="2.4" ry="1.25"/><ellipse cx="299.7" cy="320.2" rx="2.4" ry="1.25"/><ellipse cx="308" cy="321.2" rx="2.4" ry="1.25"/><ellipse cx="316.2" cy="322.1" rx="2.4" ry="1.25"/><ellipse cx="324.6" cy="323.1" rx="2.4" ry="1.25"/><ellipse cx="332.9" cy="324" rx="2.4" ry="1.25"/><ellipse cx="341.3" cy="325" rx="2.4" ry="1.25"/><ellipse cx="349.8" cy="326" rx="2.4" ry="1.25"/><ellipse cx="358.3" cy="327" rx="2.4" ry="1.25"/><ellipse cx="366.8" cy="328" rx="2.4" ry="1.25"/><ellipse cx="375.3" cy="328.9" rx="2.4" ry="1.25"/><ellipse cx="383.9" cy="329.9" rx="2.4" ry="1.25"/><ellipse cx="392.5" cy="330.9" rx="2.4" ry="1.25"/><ellipse cx="401.2" cy="331.9" rx="2.4" ry="1.25"/><ellipse cx="409.9" cy="332.9" rx="2.4" ry="1.25"/><ellipse cx="418.7" cy="334" rx="2.4" ry="1.25"/><ellipse cx="427.4" cy="335" rx="2.4" ry="1.25"/><ellipse cx="436.3" cy="336" rx="2.4" ry="1.25"/><ellipse cx="445.1" cy="337" rx="2.4" ry="1.25"/><ellipse cx="454" cy="338" rx="2.4" ry="1.25"/><ellipse cx="463" cy="339.1" rx="2.4" ry="1.25"/><ellipse cx="472" cy="340.1" rx="2.4" ry="1.25"/><ellipse cx="481" cy="341.2" rx="2.4" ry="1.25"/><ellipse cx="100.9" cy="294.2" rx="2.4" ry="1.25"/><ellipse cx="108.2" cy="295" rx="2.4" ry="1.25"/><ellipse cx="115.6" cy="295.9" rx="2.4" ry="1.25"/><ellipse cx="123.1" cy="296.7" rx="2.4" ry="1.25"/><ellipse cx="130.5" cy="297.6" rx="2.4" ry="1.25"/><ellipse cx="138" cy="298.5" rx="2.4" ry="1.25"/><ellipse cx="145.5" cy="299.3" rx="2.4" ry="1.25"/><ellipse cx="153.1" cy="300.2" rx="2.4" ry="1.25"/><ellipse cx="160.6" cy="301.1" rx="2.4" ry="1.25"/><ellipse cx="168.2" cy="301.9" rx="2.4" ry="1.25"/><ellipse cx="175.9" cy="302.8" rx="2.4" ry="1.25"/><ellipse cx="183.6" cy="303.7" rx="2.4" ry="1.25"/><ellipse cx="191.3" cy="304.6" rx="2.4" ry="1.25"/><ellipse cx="199" cy="305.5" rx="2.4" ry="1.25"/><ellipse cx="206.8" cy="306.4" rx="2.4" ry="1.25"/><ellipse cx="214.6" cy="307.3" rx="2.4" ry="1.25"/><ellipse cx="222.4" cy="308.2" rx="2.4" ry="1.25"/><ellipse cx="230.3" cy="309.1" rx="2.4" ry="1.25"/><ellipse cx="238.2" cy="310" rx="2.4" ry="1.25"/><ellipse cx="246.1" cy="310.9" rx="2.4" ry="1.25"/><ellipse cx="254.1" cy="311.8" rx="2.4" ry="1.25"/><ellipse cx="262.1" cy="312.7" rx="2.4" ry="1.25"/><ellipse cx="270.2" cy="313.6" rx="2.4" ry="1.25"/><ellipse cx="278.2" cy="314.6" rx="2.4" ry="1.25"/><ellipse cx="286.3" cy="315.5" rx="2.4" ry="1.25"/><ellipse cx="294.5" cy="316.4" rx="2.4" ry="1.25"/><ellipse cx="302.7" cy="317.4" rx="2.4" ry="1.25"/><ellipse cx="310.9" cy="318.3" rx="2.4" ry="1.25"/><ellipse cx="319.1" cy="319.3" rx="2.4" ry="1.25"/><ellipse cx="327.4" cy="320.2" rx="2.4" ry="1.25"/><ellipse cx="335.7" cy="321.2" rx="2.4" ry="1.25"/><ellipse cx="344.1" cy="322.1" rx="2.4" ry="1.25"/><ellipse cx="352.5" cy="323.1" rx="2.4" ry="1.25"/><ellipse cx="360.9" cy="324.1" rx="2.4" ry="1.25"/><ellipse cx="369.4" cy="325" rx="2.4" ry="1.25"/><ellipse cx="377.9" cy="326" rx="2.4" ry="1.25"/><ellipse cx="386.5" cy="327" rx="2.4" ry="1.25"/><ellipse cx="395" cy="328" rx="2.4" ry="1.25"/><ellipse cx="403.7" cy="329" rx="2.4" ry="1.25"/><ellipse cx="412.3" cy="330" rx="2.4" ry="1.25"/><ellipse cx="421" cy="330.9" rx="2.4" ry="1.25"/><ellipse cx="429.8" cy="332" rx="2.4" ry="1.25"/><ellipse cx="438.5" cy="333" rx="2.4" ry="1.25"/><ellipse cx="447.4" cy="334" rx="2.4" ry="1.25"/><ellipse cx="456.2" cy="335" rx="2.4" ry="1.25"/><ellipse cx="465.1" cy="336" rx="2.4" ry="1.25"/><ellipse cx="474" cy="337" rx="2.4" ry="1.25"/><ellipse cx="483" cy="338.1" rx="2.4" ry="1.25"/><ellipse cx="104.7" cy="291.7" rx="2.4" ry="1.25"/><ellipse cx="112.1" cy="292.5" rx="2.4" ry="1.25"/><ellipse cx="119.4" cy="293.3" rx="2.4" ry="1.25"/><ellipse cx="126.8" cy="294.2" rx="2.4" ry="1.25"/><ellipse cx="134.2" cy="295" rx="2.4" ry="1.25"/><ellipse cx="141.7" cy="295.9" rx="2.4" ry="1.25"/><ellipse cx="149.2" cy="296.7" rx="2.4" ry="1.25"/><ellipse cx="156.7" cy="297.6" rx="2.4" ry="1.25"/><ellipse cx="164.2" cy="298.5" rx="2.4" ry="1.25"/><ellipse cx="171.8" cy="299.3" rx="2.4" ry="1.25"/><ellipse cx="179.4" cy="300.2" rx="2.4" ry="1.25"/><ellipse cx="187.1" cy="301.1" rx="2.4" ry="1.25"/><ellipse cx="194.7" cy="301.9" rx="2.4" ry="1.25"/><ellipse cx="202.4" cy="302.8" rx="2.4" ry="1.25"/><ellipse cx="210.2" cy="303.7" rx="2.4" ry="1.25"/><ellipse cx="217.9" cy="304.6" rx="2.4" ry="1.25"/><ellipse cx="225.7" cy="305.5" rx="2.4" ry="1.25"/><ellipse cx="233.6" cy="306.4" rx="2.4" ry="1.25"/><ellipse cx="241.4" cy="307.2" rx="2.4" ry="1.25"/><ellipse cx="249.4" cy="308.1" rx="2.4" ry="1.25"/><ellipse cx="257.3" cy="309.1" rx="2.4" ry="1.25"/><ellipse cx="265.3" cy="310" rx="2.4" ry="1.25"/><ellipse cx="273.3" cy="310.9" rx="2.4" ry="1.25"/><ellipse cx="281.3" cy="311.8" rx="2.4" ry="1.25"/><ellipse cx="289.4" cy="312.7" rx="2.4" ry="1.25"/><ellipse cx="297.5" cy="313.6" rx="2.4" ry="1.25"/><ellipse cx="305.6" cy="314.6" rx="2.4" ry="1.25"/><ellipse cx="313.8" cy="315.5" rx="2.4" ry="1.25"/><ellipse cx="322" cy="316.4" rx="2.4" ry="1.25"/><ellipse cx="330.2" cy="317.4" rx="2.4" ry="1.25"/><ellipse cx="338.5" cy="318.3" rx="2.4" ry="1.25"/><ellipse cx="346.8" cy="319.3" rx="2.4" ry="1.25"/><ellipse cx="355.2" cy="320.2" rx="2.4" ry="1.25"/><ellipse cx="363.6" cy="321.2" rx="2.4" ry="1.25"/><ellipse cx="372" cy="322.1" rx="2.4" ry="1.25"/><ellipse cx="380.5" cy="323.1" rx="2.4" ry="1.25"/><ellipse cx="389" cy="324.1" rx="2.4" ry="1.25"/><ellipse cx="397.5" cy="325" rx="2.4" ry="1.25"/><ellipse cx="406.1" cy="326" rx="2.4" ry="1.25"/><ellipse cx="414.7" cy="327" rx="2.4" ry="1.25"/><ellipse cx="423.4" cy="328" rx="2.4" ry="1.25"/><ellipse cx="432.1" cy="329" rx="2.4" ry="1.25"/><ellipse cx="440.8" cy="330" rx="2.4" ry="1.25"/><ellipse cx="449.6" cy="331" rx="2.4" ry="1.25"/><ellipse cx="458.4" cy="332" rx="2.4" ry="1.25"/><ellipse cx="467.2" cy="333" rx="2.4" ry="1.25"/><ellipse cx="476.1" cy="334" rx="2.4" ry="1.25"/><ellipse cx="485" cy="335" rx="2.4" ry="1.25"/></g>
<line x1="44.7" y1="328" x2="34.6" y2="58" stroke="#222" stroke-width="0.9"/>
<line x1="29.2" y1="59.7" x2="34.7" y2="59.7" stroke="#222" stroke-width="0.9"/><text x="28.2" y="63.2" font-size="9.8" font-weight="bold" text-anchor="end" fill="#111" textLength="12.4" lengthAdjust="spacingAndGlyphs">4.0</text><line x1="30.5" y1="94.5" x2="36" y2="94.5" stroke="#222" stroke-width="0.9"/><text x="29.5" y="98" font-size="9.8" font-weight="bold" text-anchor="end" fill="#111" textLength="12.4" lengthAdjust="spacingAndGlyphs">3.5</text><line x1="31.8" y1="129.7" x2="37.3" y2="129.7" stroke="#222" stroke-width="0.9"/><text x="30.8" y="133.2" font-size="9.8" font-weight="bold" text-anchor="end" fill="#111" textLength="12.4" lengthAdjust="spacingAndGlyphs">3.0</text><line x1="33.1" y1="163.5" x2="38.6" y2="163.5" stroke="#222" stroke-width="0.9"/><text x="32.1" y="167" font-size="9.8" font-weight="bold" text-anchor="end" fill="#111" textLength="12.4" lengthAdjust="spacingAndGlyphs">2.5</text><line x1="34.3" y1="197.3" x2="39.8" y2="197.3" stroke="#222" stroke-width="0.9"/><text x="33.3" y="200.8" font-size="9.8" font-weight="bold" text-anchor="end" fill="#111" textLength="12.4" lengthAdjust="spacingAndGlyphs">2.0</text><line x1="35.5" y1="230" x2="41" y2="230" stroke="#222" stroke-width="0.9"/><text x="34.5" y="233.5" font-size="9.8" font-weight="bold" text-anchor="end" fill="#111" textLength="12.4" lengthAdjust="spacingAndGlyphs">1.5</text><line x1="36.8" y1="263.5" x2="42.3" y2="263.5" stroke="#222" stroke-width="0.9"/><text x="35.8" y="267" font-size="9.8" font-weight="bold" text-anchor="end" fill="#111" textLength="12.4" lengthAdjust="spacingAndGlyphs">1.0</text><line x1="38" y1="296" x2="43.5" y2="296" stroke="#222" stroke-width="0.9"/><text x="37" y="299.5" font-size="9.8" font-weight="bold" text-anchor="end" fill="#111" textLength="12.4" lengthAdjust="spacingAndGlyphs">0.5</text><line x1="39.2" y1="327.8" x2="44.7" y2="327.8" stroke="#222" stroke-width="0.9"/><text x="38.2" y="331.3" font-size="9.8" font-weight="bold" text-anchor="end" fill="#111" textLength="12.4" lengthAdjust="spacingAndGlyphs">0.0</text>
<text transform="translate(9.6,332.6) rotate(-90)" font-size="12.3" fill="#000" textLength="289" lengthAdjust="spacingAndGlyphs">Sequencing Counts as % of Total Productive Reads</text>
<path d="M216.1 301.4L219.8 301.4L219.8 304.6A1.8 0.9 0 0 1 216.2 304.6Z" fill="#7e0a82" stroke="#101010" stroke-width="0.65"/><path d="M218.5 301.4L219.4 301.4L219.4 304.6L218.5 304.6Z" fill="#4a004c" opacity="0.6"/><ellipse cx="217.9" cy="301.4" rx="1.8" ry="0.9" fill="#7e0a82" stroke="#101010" stroke-width="0.55"/><path d="M95.2 267.2L100.3 267.2L101 293.9A2.5 1.3 0 0 1 95.9 293.9Z" fill="#7e0a82" stroke="#101010" stroke-width="0.65"/><path d="M98.5 267.2L99.9 267.2L100.6 293.9L99.2 293.9Z" fill="#4a004c" opacity="0.6"/><ellipse cx="97.8" cy="267.2" rx="2.5" ry="1.3" fill="#7e0a82" stroke="#101010" stroke-width="0.55"/><path d="M125.3 265.8L130.2 265.8L130.9 297.4A2.4 1.3 0 0 1 126 297.4Z" fill="#7e0a82" stroke="#101010" stroke-width="0.65"/><path d="M128.4 265.8L129.8 265.8L130.5 297.4L129.2 297.4Z" fill="#4a004c" opacity="0.6"/><ellipse cx="127.8" cy="265.8" rx="2.4" ry="1.3" fill="#7e0a82" stroke="#101010" stroke-width="0.55"/><path d="M130.8 190L136 190L138.3 298.2A2.6 1.4 0 0 1 133.1 298.2Z" fill="#7e0a82" stroke="#101010" stroke-width="0.65"/><path d="M134.1 190L135.6 190L137.9 298.2L136.5 298.2Z" fill="#4a004c" opacity="0.6"/><ellipse cx="133.4" cy="190" rx="2.6" ry="1.4" fill="#7e0a82" stroke="#101010" stroke-width="0.55"/><path d="M142.5 296L146.8 296L146.9 301A2.2 1.1 0 0 1 142.6 301Z" fill="#7e0a82" stroke="#101010" stroke-width="0.65"/><path d="M145.3 296L146.4 296L146.5 301L145.4 301Z" fill="#4a004c" opacity="0.6"/><ellipse cx="144.7" cy="296" rx="2.2" ry="1.1" fill="#7e0a82" stroke="#101010" stroke-width="0.55"/><path d="M148 286.4L153.2 286.4L153.5 299.9A2.6 1.4 0 0 1 148.3 299.9Z" fill="#7e0a82" stroke="#101010" stroke-width="0.65"/><path d="M151.3 286.4L152.8 286.4L153.1 299.9L151.6 299.9Z" fill="#4a004c" opacity="0.6"/><ellipse cx="150.6" cy="286.4" rx="2.6" ry="1.4" fill="#7e0a82" stroke="#101010" stroke-width="0.55"/><path d="M155.5 294.3L161 294.3L161.1 300.8A2.8 1.4 0 0 1 155.6 300.8Z" fill="#7e0a82" stroke="#101010" stroke-width="0.65"/><path d="M159 294.3L160.6 294.3L160.7 300.8L159.1 300.8Z" fill="#4a004c" opacity="0.6"/><ellipse cx="158.2" cy="294.3" rx="2.8" ry="1.4" fill="#7e0a82" stroke="#101010" stroke-width="0.55"/><path d="M163.8 286.4L168.9 286.4L169.1 301.7A2.5 1.3 0 0 1 164 301.7Z" fill="#7e0a82" stroke="#101010" stroke-width="0.65"/><path d="M167.1 286.4L168.5 286.4L168.7 301.7L167.3 301.7Z" fill="#4a004c" opacity="0.6"/><ellipse cx="166.4" cy="286.4" rx="2.5" ry="1.3" fill="#7e0a82" stroke="#101010" stroke-width="0.55"/><path d="M179.1 294.3L184.6 294.3L184.7 303.5A2.8 1.4 0 0 1 179.2 303.5Z" fill="#7e0a82" stroke="#101010" stroke-width="0.65"/><path d="M182.6 294.3L184.2 294.3L184.3 303.5L182.7 303.5Z" fill="#4a004c" opacity="0.6"/><ellipse cx="181.8" cy="294.3" rx="2.8" ry="1.4" fill="#7e0a82" stroke="#101010" stroke-width="0.55"/><path d="M187 288.4L191.9 288.4L192.1 304.4A2.5 1.3 0 0 1 187.2 304.4Z" fill="#7e0a82" stroke="#101010" stroke-width="0.65"/><path d="M190.1 288.4L191.5 288.4L191.7 304.4L190.3 304.4Z" fill="#4a004c" opacity="0.6"/><ellipse cx="189.4" cy="288.4" rx="2.5" ry="1.3" fill="#7e0a82" stroke="#101010" stroke-width="0.55"/><path d="M220.6 303.9L224.3 303.9L224.3 308.2A1.8 1 0 0 1 220.6 308.2Z" fill="#7e0a82" stroke="#101010" stroke-width="0.65"/><path d="M222.9 303.9L223.9 303.9L223.9 308.2L223 308.2Z" fill="#4a004c" opacity="0.6"/><ellipse cx="222.4" cy="303.9" rx="1.8" ry="1" fill="#7e0a82" stroke="#101010" stroke-width="0.55"/><path d="M234.1 129L239 129L239.7 309.9A2.5 1.3 0 0 1 234.8 309.9Z" fill="#7e0a82" stroke="#101010" stroke-width="0.65"/><path d="M237.2 129L238.6 129L239.3 309.9L238 309.9Z" fill="#4a004c" opacity="0.6"/><ellipse cx="236.6" cy="129" rx="2.5" ry="1.3" fill="#7e0a82" stroke="#101010" stroke-width="0.55"/><path d="M259 252.9L264 252.9L264 312.6A2.5 1.3 0 0 1 259 312.6Z" fill="#7e0a82" stroke="#101010" stroke-width="0.65"/><path d="M262.2 252.9L263.6 252.9L263.6 312.6L262.2 312.6Z" fill="#4a004c" opacity="0.6"/><ellipse cx="261.5" cy="252.9" rx="2.5" ry="1.3" fill="#7e0a82" stroke="#101010" stroke-width="0.55"/><path d="M275 283.3L279.3 283.3L279.2 314.4A2.2 1.1 0 0 1 274.9 314.4Z" fill="#7e0a82" stroke="#101010" stroke-width="0.65"/><path d="M277.8 283.3L278.9 283.3L278.8 314.4L277.7 314.4Z" fill="#4a004c" opacity="0.6"/><ellipse cx="277.1" cy="283.3" rx="2.2" ry="1.1" fill="#7e0a82" stroke="#101010" stroke-width="0.55"/><path d="M283.2 246.6L288.1 246.6L287.8 315.4A2.5 1.3 0 0 1 282.9 315.4Z" fill="#7e0a82" stroke="#101010" stroke-width="0.65"/><path d="M286.3 246.6L287.7 246.6L287.4 315.4L286 315.4Z" fill="#4a004c" opacity="0.6"/><ellipse cx="285.6" cy="246.6" rx="2.5" ry="1.3" fill="#7e0a82" stroke="#101010" stroke-width="0.55"/><path d="M291.5 281L296.4 281L296.2 316.3A2.4 1.3 0 0 1 291.3 316.3Z" fill="#7e0a82" stroke="#101010" stroke-width="0.65"/><path d="M294.6 281L296 281L295.8 316.3L294.4 316.3Z" fill="#4a004c" opacity="0.6"/><ellipse cx="293.9" cy="281" rx="2.4" ry="1.3" fill="#7e0a82" stroke="#101010" stroke-width="0.55"/><path d="M316.2 302.4L320.9 302.4L320.7 319.2A2.3 1.2 0 0 1 316 319.2Z" fill="#7e0a82" stroke="#101010" stroke-width="0.65"/><path d="M319.2 302.4L320.5 302.4L320.3 319.2L319 319.2Z" fill="#4a004c" opacity="0.6"/><ellipse cx="318.5" cy="302.4" rx="2.3" ry="1.2" fill="#7e0a82" stroke="#101010" stroke-width="0.55"/><path d="M332.7 311.3L337.2 311.3L337.1 321.1A2.2 1.2 0 0 1 332.6 321.1Z" fill="#7e0a82" stroke="#101010" stroke-width="0.65"/><path d="M335.6 311.3L336.8 311.3L336.7 321.1L335.5 321.1Z" fill="#4a004c" opacity="0.6"/><ellipse cx="334.9" cy="311.3" rx="2.2" ry="1.2" fill="#7e0a82" stroke="#101010" stroke-width="0.55"/><path d="M349 320.7L354 320.7L354 323A2.5 1.3 0 0 1 349 323Z" fill="#7e0a82" stroke="#101010" stroke-width="0.65"/><path d="M352.2 320.7L353.6 320.7L353.6 323L352.2 323Z" fill="#4a004c" opacity="0.6"/><ellipse cx="351.5" cy="320.7" rx="2.5" ry="1.3" fill="#7e0a82" stroke="#101010" stroke-width="0.55"/><path d="M357.9 302.8L362.8 302.8L362.4 323.9A2.5 1.3 0 0 1 357.5 323.9Z" fill="#7e0a82" stroke="#101010" stroke-width="0.65"/><path d="M361 302.8L362.4 302.8L362 323.9L360.7 323.9Z" fill="#4a004c" opacity="0.6"/><ellipse cx="360.4" cy="302.8" rx="2.5" ry="1.3" fill="#7e0a82" stroke="#101010" stroke-width="0.55"/><path d="M366.5 317.7L370.8 317.7L370.7 324.9A2.2 1.1 0 0 1 366.4 324.9Z" fill="#7e0a82" stroke="#101010" stroke-width="0.65"/><path d="M369.3 317.7L370.4 317.7L370.3 324.9L369.1 324.9Z" fill="#4a004c" opacity="0.6"/><ellipse cx="368.6" cy="317.7" rx="2.2" ry="1.1" fill="#7e0a82" stroke="#101010" stroke-width="0.55"/><path d="M374.6 312.7L379.9 312.7L379.6 325.9A2.6 1.4 0 0 1 374.3 325.9Z" fill="#7e0a82" stroke="#101010" stroke-width="0.65"/><path d="M378 312.7L379.5 312.7L379.2 325.9L377.7 325.9Z" fill="#4a004c" opacity="0.6"/><ellipse cx="377.2" cy="312.7" rx="2.6" ry="1.4" fill="#7e0a82" stroke="#101010" stroke-width="0.55"/><path d="M402.7 223.5L406.8 223.5L404.2 328.8A2.1 1.1 0 0 1 400.1 328.8Z" fill="#7e0a82" stroke="#101010" stroke-width="0.65"/><path d="M405.3 223.5L406.4 223.5L403.8 328.8L402.8 328.8Z" fill="#4a004c" opacity="0.6"/><ellipse cx="404.8" cy="223.5" rx="2.1" ry="1.1" fill="#7e0a82" stroke="#101010" stroke-width="0.55"/><path d="M412.6 188.6L417 188.6L413.3 329.8A2.2 1.1 0 0 1 408.9 329.8Z" fill="#7e0a82" stroke="#101010" stroke-width="0.65"/><path d="M415.4 188.6L416.6 188.6L412.9 329.8L411.7 329.8Z" fill="#4a004c" opacity="0.6"/><ellipse cx="414.8" cy="188.6" rx="2.2" ry="1.1" fill="#7e0a82" stroke="#101010" stroke-width="0.55"/><path d="M419.2 328.1L422.9 328.1L422.8 330.9A1.8 1 0 0 1 419.1 330.9Z" fill="#7e0a82" stroke="#101010" stroke-width="0.65"/><path d="M421.5 328.1L422.5 328.1L422.4 330.9L421.5 330.9Z" fill="#4a004c" opacity="0.6"/><ellipse cx="421" cy="328.1" rx="1.8" ry="1" fill="#7e0a82" stroke="#101010" stroke-width="0.55"/><path d="M424.9 87.7L430.3 87.7L423.6 330.9A2.7 1.4 0 0 1 418.2 330.9Z" fill="#7e0a82" stroke="#101010" stroke-width="0.65"/><path d="M428.4 87.7L429.9 87.7L423.2 330.9L421.6 330.9Z" fill="#4a004c" opacity="0.6"/><ellipse cx="427.6" cy="87.7" rx="2.7" ry="1.4" fill="#7e0a82" stroke="#101010" stroke-width="0.55"/><path d="M427 314.6L431.5 314.6L431 331.8A2.2 1.2 0 0 1 426.5 331.8Z" fill="#7e0a82" stroke="#101010" stroke-width="0.65"/><path d="M429.9 314.6L431.1 314.6L430.6 331.8L429.4 331.8Z" fill="#4a004c" opacity="0.6"/><ellipse cx="429.2" cy="314.6" rx="2.2" ry="1.2" fill="#7e0a82" stroke="#101010" stroke-width="0.55"/><path d="M436.7 331.4L440.4 331.4L440.3 333A1.8 1 0 0 1 436.6 333Z" fill="#7e0a82" stroke="#101010" stroke-width="0.65"/><path d="M439.1 331.4L440 331.4L439.9 333L439 333Z" fill="#4a004c" opacity="0.6"/><ellipse cx="438.5" cy="331.4" rx="1.8" ry="1" fill="#7e0a82" stroke="#101010" stroke-width="0.55"/><path d="M453.4 306.2L457.3 306.2L456.3 334.8A2 1 0 0 1 452.4 334.8Z" fill="#7e0a82" stroke="#101010" stroke-width="0.65"/><path d="M455.9 306.2L456.9 306.2L455.9 334.8L454.9 334.8Z" fill="#4a004c" opacity="0.6"/><ellipse cx="455.4" cy="306.2" rx="2" ry="1" fill="#7e0a82" stroke="#101010" stroke-width="0.55"/><path d="M463.3 333.1L467 333.1L466.9 336A1.8 1 0 0 1 463.2 336Z" fill="#7e0a82" stroke="#101010" stroke-width="0.65"/><path d="M465.6 333.1L466.6 333.1L466.5 336L465.5 336Z" fill="#4a004c" opacity="0.6"/><ellipse cx="465.1" cy="333.1" rx="1.8" ry="1" fill="#7e0a82" stroke="#101010" stroke-width="0.55"/><path d="M484.5 196L490.2 196L484.8 337.9A2.8 1.4 0 0 1 479.1 337.9Z" fill="#7e0a82" stroke="#101010" stroke-width="0.65"/><path d="M488.1 196L489.8 196L484.4 337.9L482.7 337.9Z" fill="#4a004c" opacity="0.6"/><ellipse cx="487.4" cy="196" rx="2.8" ry="1.4" fill="#7e0a82" stroke="#101010" stroke-width="0.55"/><path d="M130.2 296.7L133.9 296.7L134 301.5A1.9 1 0 0 1 130.3 301.5Z" fill="#20f0f0" stroke="#101010" stroke-width="0.65"/><path d="M132.6 296.7L133.5 296.7L133.6 301.5L132.7 301.5Z" fill="#109090" opacity="0.6"/><ellipse cx="132.1" cy="296.7" rx="1.9" ry="1" fill="#20f0f0" stroke="#101010" stroke-width="0.55"/><path d="M192.9 307L195.8 307L195.8 308A1.5 0.8 0 0 1 192.9 308Z" fill="#20f0f0" stroke="#101010" stroke-width="0.65"/><path d="M194.8 307L195.4 307L195.4 308L194.8 308Z" fill="#109090" opacity="0.6"/><ellipse cx="194.4" cy="307" rx="1.5" ry="0.8" fill="#20f0f0" stroke="#101010" stroke-width="0.55"/><path d="M209.3 308.4L213.1 308.4L213.1 310A1.9 1 0 0 1 209.3 310Z" fill="#20f0f0" stroke="#101010" stroke-width="0.65"/><path d="M211.7 308.4L212.7 308.4L212.7 310L211.7 310Z" fill="#109090" opacity="0.6"/><ellipse cx="211.2" cy="308.4" rx="1.9" ry="1" fill="#20f0f0" stroke="#101010" stroke-width="0.55"/><path d="M329.4 327L333.3 327L333.3 328A2 1 0 0 1 329.4 328Z" fill="#20f0f0" stroke="#101010" stroke-width="0.65"/><path d="M331.9 327L332.9 327L332.9 328L331.9 328Z" fill="#109090" opacity="0.6"/><ellipse cx="331.4" cy="327" rx="2" ry="1" fill="#20f0f0" stroke="#101010" stroke-width="0.55"/><path d="M461.1 336.8L464.9 336.8L464.8 339.1A1.9 1 0 0 1 461 339.1Z" fill="#20f0f0" stroke="#101010" stroke-width="0.65"/><path d="M463.5 336.8L464.5 336.8L464.4 339.1L463.4 339.1Z" fill="#109090" opacity="0.6"/><ellipse cx="463" cy="336.8" rx="1.9" ry="1" fill="#20f0f0" stroke="#101010" stroke-width="0.55"/><path d="M87.7 289.1L93 289.1L93.3 299.1A2.6 1.4 0 0 1 88 299.1Z" fill="#f8f818" stroke="#101010" stroke-width="0.65"/><path d="M91.1 289.1L92.6 289.1L92.9 299.1L91.4 299.1Z" fill="#a0a000" opacity="0.6"/><ellipse cx="90.3" cy="289.1" rx="2.6" ry="1.4" fill="#f8f818" stroke="#101010" stroke-width="0.55"/><path d="M103.7 300L106.6 300L106.6 301A1.4 0.8 0 0 1 103.7 301Z" fill="#f8f818" stroke="#101010" stroke-width="0.65"/><path d="M105.6 300L106.2 300L106.2 301L105.6 301Z" fill="#a0a000" opacity="0.6"/><ellipse cx="105.2" cy="300" rx="1.4" ry="0.8" fill="#f8f818" stroke="#101010" stroke-width="0.55"/><path d="M125.3 273.7L130.6 273.7L131.3 303.5A2.6 1.4 0 0 1 126 303.5Z" fill="#f8f818" stroke="#101010" stroke-width="0.65"/><path d="M128.7 273.7L130.2 273.7L130.9 303.5L129.4 303.5Z" fill="#a0a000" opacity="0.6"/><ellipse cx="127.9" cy="273.7" rx="2.6" ry="1.4" fill="#f8f818" stroke="#101010" stroke-width="0.55"/><path d="M141.8 302.2L144.7 302.2L144.8 305.2A1.4 0.8 0 0 1 141.9 305.2Z" fill="#f8f818" stroke="#101010" stroke-width="0.65"/><path d="M143.7 302.2L144.3 302.2L144.4 305.2L143.7 305.2Z" fill="#a0a000" opacity="0.6"/><ellipse cx="143.2" cy="302.2" rx="1.4" ry="0.8" fill="#f8f818" stroke="#101010" stroke-width="0.55"/><path d="M157.5 306L160.5 306L160.5 307A1.5 0.8 0 0 1 157.5 307Z" fill="#f8f818" stroke="#101010" stroke-width="0.65"/><path d="M159.4 306L160.1 306L160.1 307L159.4 307Z" fill="#a0a000" opacity="0.6"/><ellipse cx="159" cy="306" rx="1.5" ry="0.8" fill="#f8f818" stroke="#101010" stroke-width="0.55"/><path d="M180 307L184 307L184 309.7A2 1 0 0 1 180 309.7Z" fill="#f8f818" stroke="#101010" stroke-width="0.65"/><path d="M182.6 307L183.6 307L183.6 309.7L182.6 309.7Z" fill="#a0a000" opacity="0.6"/><ellipse cx="182" cy="307" rx="2" ry="1" fill="#f8f818" stroke="#101010" stroke-width="0.55"/><path d="M228.2 259.9L233.1 259.9L233.4 315.4A2.5 1.3 0 0 1 228.5 315.4Z" fill="#f8f818" stroke="#101010" stroke-width="0.65"/><path d="M231.3 259.9L232.7 259.9L233 315.4L231.6 315.4Z" fill="#a0a000" opacity="0.6"/><ellipse cx="230.6" cy="259.9" rx="2.5" ry="1.3" fill="#f8f818" stroke="#101010" stroke-width="0.55"/><path d="M236.5 300.2L239.6 300.2L239.7 316.2A1.5 0.8 0 0 1 236.6 316.2Z" fill="#f8f818" stroke="#101010" stroke-width="0.65"/><path d="M238.5 300.2L239.2 300.2L239.3 316.2L238.5 316.2Z" fill="#a0a000" opacity="0.6"/><ellipse cx="238.1" cy="300.2" rx="1.5" ry="0.8" fill="#f8f818" stroke="#101010" stroke-width="0.55"/><path d="M245.8 313.9L249.6 313.9L249.6 317.4A1.9 1 0 0 1 245.8 317.4Z" fill="#f8f818" stroke="#101010" stroke-width="0.65"/><path d="M248.2 313.9L249.2 313.9L249.2 317.4L248.2 317.4Z" fill="#a0a000" opacity="0.6"/><ellipse cx="247.7" cy="313.9" rx="1.9" ry="1" fill="#f8f818" stroke="#101010" stroke-width="0.55"/><path d="M252.8 292.2L256.7 292.2L256.7 318.2A1.9 1 0 0 1 252.8 318.2Z" fill="#f8f818" stroke="#101010" stroke-width="0.65"/><path d="M255.3 292.2L256.3 292.2L256.3 318.2L255.3 318.2Z" fill="#a0a000" opacity="0.6"/><ellipse cx="254.8" cy="292.2" rx="1.9" ry="1" fill="#f8f818" stroke="#101010" stroke-width="0.55"/><path d="M261 285.3L264 285.3L264 319.1A1.5 0.8 0 0 1 261 319.1Z" fill="#f8f818" stroke="#101010" stroke-width="0.65"/><path d="M262.9 285.3L263.6 285.3L263.6 319.1L262.9 319.1Z" fill="#a0a000" opacity="0.6"/><ellipse cx="262.5" cy="285.3" rx="1.5" ry="0.8" fill="#f8f818" stroke="#101010" stroke-width="0.55"/><path d="M285.6 312.8L289.1 312.8L289.1 322A1.8 0.9 0 0 1 285.6 322Z" fill="#f8f818" stroke="#101010" stroke-width="0.65"/><path d="M287.8 312.8L288.7 312.8L288.7 322L287.8 322Z" fill="#a0a000" opacity="0.6"/><ellipse cx="287.4" cy="312.8" rx="1.8" ry="0.9" fill="#f8f818" stroke="#101010" stroke-width="0.55"/><path d="M310.7 325.8L313.3 325.8L313.3 326.8A1.3 0.7 0 0 1 310.7 326.8Z" fill="#f8f818" stroke="#101010" stroke-width="0.65"/><path d="M312.4 325.8L312.9 325.8L312.9 326.8L312.4 326.8Z" fill="#a0a000" opacity="0.6"/><ellipse cx="312" cy="325.8" rx="1.3" ry="0.7" fill="#f8f818" stroke="#101010" stroke-width="0.55"/><path d="M319.8 322.1L323.6 322.1L323.6 326A1.9 1 0 0 1 319.7 326Z" fill="#f8f818" stroke="#101010" stroke-width="0.65"/><path d="M322.2 322.1L323.2 322.1L323.2 326L322.2 326Z" fill="#a0a000" opacity="0.6"/><ellipse cx="321.7" cy="322.1" rx="1.9" ry="1" fill="#f8f818" stroke="#101010" stroke-width="0.55"/><path d="M361.8 331.7L364.7 331.7L364.7 332.7A1.4 0.8 0 0 1 361.8 332.7Z" fill="#f8f818" stroke="#101010" stroke-width="0.65"/><path d="M363.7 331.7L364.3 331.7L364.3 332.7L363.6 332.7Z" fill="#a0a000" opacity="0.6"/><ellipse cx="363.2" cy="331.7" rx="1.4" ry="0.8" fill="#f8f818" stroke="#101010" stroke-width="0.55"/><path d="M370 329.4L373.4 329.4L373.4 331.8A1.7 0.9 0 0 1 370 331.8Z" fill="#f8f818" stroke="#101010" stroke-width="0.65"/><path d="M372.2 329.4L373 329.4L373 331.8L372.1 331.8Z" fill="#a0a000" opacity="0.6"/><ellipse cx="371.7" cy="329.4" rx="1.7" ry="0.9" fill="#f8f818" stroke="#101010" stroke-width="0.55"/><path d="M416.4 242L419.8 242L417.3 336.9A1.7 0.9 0 0 1 413.9 336.9Z" fill="#f8f818" stroke="#101010" stroke-width="0.65"/><path d="M418.6 242L419.4 242L416.9 336.9L416 336.9Z" fill="#a0a000" opacity="0.6"/><ellipse cx="418.1" cy="242" rx="1.7" ry="0.9" fill="#f8f818" stroke="#101010" stroke-width="0.55"/><path d="M421.9 334.5L426.5 334.5L426.4 337.9A2.3 1.2 0 0 1 421.8 337.9Z" fill="#f8f818" stroke="#101010" stroke-width="0.65"/><path d="M424.8 334.5L426.1 334.5L426 337.9L424.7 337.9Z" fill="#a0a000" opacity="0.6"/><ellipse cx="424.2" cy="334.5" rx="2.3" ry="1.2" fill="#f8f818" stroke="#101010" stroke-width="0.55"/><path d="M432 337.2L435.9 337.2L435.8 339.1A1.9 1 0 0 1 432 339.1Z" fill="#f8f818" stroke="#101010" stroke-width="0.65"/><path d="M434.5 337.2L435.5 337.2L435.4 339.1L434.4 339.1Z" fill="#a0a000" opacity="0.6"/><ellipse cx="434" cy="337.2" rx="1.9" ry="1" fill="#f8f818" stroke="#101010" stroke-width="0.55"/><path d="M441 335.9L444.8 335.9L444.6 340.1A1.9 1 0 0 1 440.8 340.1Z" fill="#f8f818" stroke="#101010" stroke-width="0.65"/><path d="M443.4 335.9L444.4 335.9L444.2 340.1L443.3 340.1Z" fill="#a0a000" opacity="0.6"/><ellipse cx="442.9" cy="335.9" rx="1.9" ry="1" fill="#f8f818" stroke="#101010" stroke-width="0.55"/><path d="M458.9 338.2L462.7 338.2L462.6 342.2A1.9 1 0 0 1 458.8 342.2Z" fill="#f8f818" stroke="#101010" stroke-width="0.65"/><path d="M461.3 338.2L462.3 338.2L462.2 342.2L461.2 342.2Z" fill="#a0a000" opacity="0.6"/><ellipse cx="460.8" cy="338.2" rx="1.9" ry="1" fill="#f8f818" stroke="#101010" stroke-width="0.55"/><path d="M477.9 266.6L482.8 266.6L479.9 344.1A2.5 1.3 0 0 1 475 344.1Z" fill="#f8f818" stroke="#101010" stroke-width="0.65"/><path d="M481 266.6L482.4 266.6L479.5 344.1L478.1 344.1Z" fill="#a0a000" opacity="0.6"/><ellipse cx="480.4" cy="266.6" rx="2.5" ry="1.3" fill="#f8f818" stroke="#101010" stroke-width="0.55"/><path d="M123.5 299.7L126.6 299.7L126.7 306A1.5 0.8 0 0 1 123.6 306Z" fill="#c020c0" stroke="#101010" stroke-width="0.65"/><path d="M125.5 299.7L126.2 299.7L126.3 306L125.6 306Z" fill="#901090" opacity="0.6"/><ellipse cx="125" cy="299.7" rx="1.5" ry="0.8" fill="#c020c0" stroke="#101010" stroke-width="0.55"/><path d="M210.3 314.8L214.2 314.8L214.2 316.4A1.9 1 0 0 1 210.3 316.4Z" fill="#0a0a82" stroke="#101010" stroke-width="0.65"/><path d="M212.8 314.8L213.8 314.8L213.8 316.4L212.8 316.4Z" fill="#00004a" opacity="0.6"/><ellipse cx="212.2" cy="314.8" rx="1.9" ry="1" fill="#0a0a82" stroke="#101010" stroke-width="0.55"/><path d="M438.6 341.1L442.5 341.1L442.5 343.2A1.9 1 0 0 1 438.6 343.2Z" fill="#0a0a82" stroke="#101010" stroke-width="0.65"/><path d="M441.1 341.1L442.1 341.1L442.1 343.2L441.1 343.2Z" fill="#00004a" opacity="0.6"/><ellipse cx="440.6" cy="341.1" rx="1.9" ry="1" fill="#0a0a82" stroke="#101010" stroke-width="0.55"/><path d="M79.9 289.9L85.2 289.9L85.6 304.4A2.6 1.4 0 0 1 80.3 304.4Z" fill="#0a0a82" stroke="#101010" stroke-width="0.65"/><path d="M83.3 289.9L84.8 289.9L85.2 304.4L83.7 304.4Z" fill="#00004a" opacity="0.6"/><ellipse cx="82.6" cy="289.9" rx="2.6" ry="1.4" fill="#0a0a82" stroke="#101010" stroke-width="0.55"/><path d="M95.5 294.7L99.7 294.7L100 306.1A2.1 1.1 0 0 1 95.8 306.1Z" fill="#0a0a82" stroke="#101010" stroke-width="0.65"/><path d="M98.2 294.7L99.3 294.7L99.6 306.1L98.5 306.1Z" fill="#00004a" opacity="0.6"/><ellipse cx="97.6" cy="294.7" rx="2.1" ry="1.1" fill="#0a0a82" stroke="#101010" stroke-width="0.55"/><path d="M105.6 305L109.6 305L109.6 307.3A2 1 0 0 1 105.7 307.3Z" fill="#0a0a82" stroke="#101010" stroke-width="0.65"/><path d="M108.1 305L109.2 305L109.2 307.3L108.2 307.3Z" fill="#00004a" opacity="0.6"/><ellipse cx="107.6" cy="305" rx="2" ry="1" fill="#0a0a82" stroke="#101010" stroke-width="0.55"/><path d="M118 263.8L123.3 263.8L124.4 308.9A2.6 1.4 0 0 1 119.1 308.9Z" fill="#0a0a82" stroke="#101010" stroke-width="0.65"/><path d="M121.4 263.8L122.9 263.8L124 308.9L122.5 308.9Z" fill="#00004a" opacity="0.6"/><ellipse cx="120.7" cy="263.8" rx="2.6" ry="1.4" fill="#0a0a82" stroke="#101010" stroke-width="0.55"/><path d="M136.3 303.3L140.7 303.3L140.9 310.9A2.2 1.1 0 0 1 136.5 310.9Z" fill="#0a0a82" stroke="#101010" stroke-width="0.65"/><path d="M139.1 303.3L140.3 303.3L140.5 310.9L139.3 310.9Z" fill="#00004a" opacity="0.6"/><ellipse cx="138.5" cy="303.3" rx="2.2" ry="1.1" fill="#0a0a82" stroke="#101010" stroke-width="0.55"/><path d="M159.4 309.6L163.3 309.6L163.4 313.6A2 1 0 0 1 159.5 313.6Z" fill="#0a0a82" stroke="#101010" stroke-width="0.65"/><path d="M161.9 309.6L162.9 309.6L163 313.6L162 313.6Z" fill="#00004a" opacity="0.6"/><ellipse cx="161.4" cy="309.6" rx="2" ry="1" fill="#0a0a82" stroke="#101010" stroke-width="0.55"/><path d="M181 310L186 310L186.1 316.3A2.5 1.3 0 0 1 181.1 316.3Z" fill="#0a0a82" stroke="#101010" stroke-width="0.65"/><path d="M184.2 310L185.6 310L185.7 316.3L184.3 316.3Z" fill="#00004a" opacity="0.6"/><ellipse cx="183.5" cy="310" rx="2.5" ry="1.3" fill="#0a0a82" stroke="#101010" stroke-width="0.55"/><path d="M198.8 316.5L202.8 316.5L202.8 318.3A2 1 0 0 1 198.8 318.3Z" fill="#0a0a82" stroke="#101010" stroke-width="0.65"/><path d="M201.3 316.5L202.4 316.5L202.4 318.3L201.4 318.3Z" fill="#00004a" opacity="0.6"/><ellipse cx="200.8" cy="316.5" rx="2" ry="1" fill="#0a0a82" stroke="#101010" stroke-width="0.55"/><path d="M222 273.7L227.2 273.7L227.5 321.1A2.6 1.4 0 0 1 222.3 321.1Z" fill="#0a0a82" stroke="#101010" stroke-width="0.65"/><path d="M225.3 273.7L226.8 273.7L227.1 321.1L225.6 321.1Z" fill="#00004a" opacity="0.6"/><ellipse cx="224.6" cy="273.7" rx="2.6" ry="1.4" fill="#0a0a82" stroke="#101010" stroke-width="0.55"/><path d="M229.8 293.3L234.5 293.3L234.6 322A2.3 1.2 0 0 1 229.9 322Z" fill="#0a0a82" stroke="#101010" stroke-width="0.65"/><path d="M232.8 293.3L234.1 293.3L234.2 322L232.9 322Z" fill="#00004a" opacity="0.6"/><ellipse cx="232.2" cy="293.3" rx="2.3" ry="1.2" fill="#0a0a82" stroke="#101010" stroke-width="0.55"/><path d="M246 289.2L251 289.2L251.1 323.9A2.5 1.3 0 0 1 246.1 323.9Z" fill="#0a0a82" stroke="#101010" stroke-width="0.65"/><path d="M249.2 289.2L250.6 289.2L250.7 323.9L249.3 323.9Z" fill="#00004a" opacity="0.6"/><ellipse cx="248.5" cy="289.2" rx="2.5" ry="1.3" fill="#0a0a82" stroke="#101010" stroke-width="0.55"/><path d="M255.4 323.4L259.4 323.4L259.4 325A2 1 0 0 1 255.4 325Z" fill="#0a0a82" stroke="#101010" stroke-width="0.65"/><path d="M258 323.4L259 323.4L259 325L258 325Z" fill="#00004a" opacity="0.6"/><ellipse cx="257.4" cy="323.4" rx="2" ry="1" fill="#0a0a82" stroke="#101010" stroke-width="0.55"/><path d="M269.5 297L275 297L274.9 326.7A2.8 1.4 0 0 1 269.4 326.7Z" fill="#0a0a82" stroke="#101010" stroke-width="0.65"/><path d="M273 297L274.6 297L274.5 326.7L273 326.7Z" fill="#00004a" opacity="0.6"/><ellipse cx="272.2" cy="297" rx="2.8" ry="1.4" fill="#0a0a82" stroke="#101010" stroke-width="0.55"/><path d="M281.5 300L285.8 300L285.7 328.1A2.2 1.1 0 0 1 281.4 328.1Z" fill="#0a0a82" stroke="#101010" stroke-width="0.65"/><path d="M284.3 300L285.4 300L285.3 328.1L284.1 328.1Z" fill="#00004a" opacity="0.6"/><ellipse cx="283.6" cy="300" rx="2.2" ry="1.1" fill="#0a0a82" stroke="#101010" stroke-width="0.55"/><path d="M297 326.8L300.9 326.8L300.9 329.9A2 1 0 0 1 297 329.9Z" fill="#0a0a82" stroke="#101010" stroke-width="0.65"/><path d="M299.5 326.8L300.5 326.8L300.5 329.9L299.5 329.9Z" fill="#00004a" opacity="0.6"/><ellipse cx="299" cy="326.8" rx="2" ry="1" fill="#0a0a82" stroke="#101010" stroke-width="0.55"/><path d="M305.5 330L309 330L309 331A1.8 0.9 0 0 1 305.5 331Z" fill="#0a0a82" stroke="#101010" stroke-width="0.65"/><path d="M307.7 330L308.6 330L308.6 331L307.7 331Z" fill="#00004a" opacity="0.6"/><ellipse cx="307.2" cy="330" rx="1.8" ry="0.9" fill="#0a0a82" stroke="#101010" stroke-width="0.55"/><path d="M313.8 328.8L317.8 328.8L317.8 331.9A2 1 0 0 1 313.8 331.9Z" fill="#0a0a82" stroke="#101010" stroke-width="0.65"/><path d="M316.4 328.8L317.4 328.8L317.4 331.9L316.4 331.9Z" fill="#00004a" opacity="0.6"/><ellipse cx="315.8" cy="328.8" rx="2" ry="1" fill="#0a0a82" stroke="#101010" stroke-width="0.55"/><path d="M382.9 336.2L386.8 336.2L386.7 340A2 1 0 0 1 382.8 340Z" fill="#0a0a82" stroke="#101010" stroke-width="0.65"/><path d="M385.4 336.2L386.4 336.2L386.3 340L385.3 340Z" fill="#00004a" opacity="0.6"/><ellipse cx="384.8" cy="336.2" rx="2" ry="1" fill="#0a0a82" stroke="#101010" stroke-width="0.55"/><path d="M410.5 259L414.4 259L411.9 354A1.9 1 0 0 1 408 354Z" fill="#0a0a82" stroke="#101010" stroke-width="0.65"/><path d="M413 259L414 259L411.5 354L410.5 354Z" fill="#00004a" opacity="0.6"/><ellipse cx="412.4" cy="259" rx="1.9" ry="1" fill="#0a0a82" stroke="#101010" stroke-width="0.55"/><path d="M461.5 296.2L464.8 296.2L462.2 371A1.7 0.9 0 0 1 458.9 371Z" fill="#0a0a82" stroke="#101010" stroke-width="0.65"/><path d="M463.6 296.2L464.4 296.2L461.8 371L461 371Z" fill="#00004a" opacity="0.6"/><ellipse cx="463.1" cy="296.2" rx="1.7" ry="0.9" fill="#0a0a82" stroke="#101010" stroke-width="0.55"/><path d="M474.4 283.4L478.3 283.4L475.8 350.6A2 1 0 0 1 471.9 350.6Z" fill="#0a0a82" stroke="#101010" stroke-width="0.65"/><path d="M476.9 283.4L477.9 283.4L475.4 350.6L474.4 350.6Z" fill="#00004a" opacity="0.6"/><ellipse cx="476.4" cy="283.4" rx="2" ry="1" fill="#0a0a82" stroke="#101010" stroke-width="0.55"/><path d="M486 337L490 337L489.7 344A2 1 0 0 1 485.7 344Z" fill="#0a0a82" stroke="#101010" stroke-width="0.65"/><path d="M488.6 337L489.6 337L489.3 344L488.3 344Z" fill="#00004a" opacity="0.6"/><ellipse cx="488" cy="337" rx="2" ry="1" fill="#0a0a82" stroke="#101010" stroke-width="0.55"/><path d="M114.5 287.4L118.4 287.4L119 311.6A2 1 0 0 1 115.1 311.6Z" fill="#cecefa" stroke="#101010" stroke-width="0.65"/><path d="M117 287.4L118 287.4L118.6 311.6L117.6 311.6Z" fill="#8888b0" opacity="0.6"/><ellipse cx="116.5" cy="287.4" rx="2" ry="1" fill="#cecefa" stroke="#101010" stroke-width="0.55"/><path d="M155.6 314.7L159.6 314.7L159.7 316.4A2 1 0 0 1 155.7 316.4Z" fill="#cecefa" stroke="#101010" stroke-width="0.65"/><path d="M158.2 314.7L159.2 314.7L159.3 316.4L158.2 316.4Z" fill="#8888b0" opacity="0.6"/><ellipse cx="157.6" cy="314.7" rx="2" ry="1" fill="#cecefa" stroke="#101010" stroke-width="0.55"/><path d="M195.2 319.1L199.2 319.1L199.3 321.1A2 1 0 0 1 195.3 321.1Z" fill="#cecefa" stroke="#101010" stroke-width="0.65"/><path d="M197.8 319.1L198.8 319.1L198.9 321.1L197.8 321.1Z" fill="#8888b0" opacity="0.6"/><ellipse cx="197.2" cy="319.1" rx="2" ry="1" fill="#cecefa" stroke="#101010" stroke-width="0.55"/><path d="M278.3 288.2L282.2 288.2L282.1 331A1.9 1 0 0 1 278.2 331Z" fill="#cecefa" stroke="#101010" stroke-width="0.65"/><path d="M280.8 288.2L281.8 288.2L281.7 331L280.7 331Z" fill="#8888b0" opacity="0.6"/><ellipse cx="280.2" cy="288.2" rx="1.9" ry="1" fill="#cecefa" stroke="#101010" stroke-width="0.55"/><path d="M336.6 336.5L340.6 336.5L340.6 338A2 1 0 0 1 336.5 338Z" fill="#cecefa" stroke="#101010" stroke-width="0.65"/><path d="M339.1 336.5L340.2 336.5L340.2 338L339.1 338Z" fill="#8888b0" opacity="0.6"/><ellipse cx="338.6" cy="336.5" rx="2" ry="1" fill="#cecefa" stroke="#101010" stroke-width="0.55"/><path d="M345.7 326L348.4 326L348.2 338.9A1.3 0.7 0 0 1 345.5 338.9Z" fill="#cecefa" stroke="#101010" stroke-width="0.65"/><path d="M347.4 326L348 326L347.8 338.9L347.2 338.9Z" fill="#8888b0" opacity="0.6"/><ellipse cx="347" cy="326" rx="1.3" ry="0.7" fill="#cecefa" stroke="#101010" stroke-width="0.55"/><path d="M371.4 340.3L375.4 340.3L375.4 342.1A2 1 0 0 1 371.4 342.1Z" fill="#cecefa" stroke="#101010" stroke-width="0.65"/><path d="M374 340.3L375 340.3L375 342.1L373.9 342.1Z" fill="#8888b0" opacity="0.6"/><ellipse cx="373.4" cy="340.3" rx="2" ry="1" fill="#cecefa" stroke="#101010" stroke-width="0.55"/><path d="M412 264L413.8 264L411.7 346.6A0.9 0.7 0 0 1 409.9 346.6Z" fill="#cecefa" stroke="#101010" stroke-width="0.65"/><path d="M413.2 264L413.4 264L411.3 346.6L411 346.6Z" fill="#8888b0" opacity="0.6"/><ellipse cx="412.9" cy="264" rx="0.9" ry="0.7" fill="#cecefa" stroke="#101010" stroke-width="0.55"/><path d="M433.9 345.4L437.9 345.4L437.8 349.5A2 1 0 0 1 433.8 349.5Z" fill="#cecefa" stroke="#101010" stroke-width="0.65"/><path d="M436.5 345.4L437.5 345.4L437.4 349.5L436.4 349.5Z" fill="#8888b0" opacity="0.6"/><ellipse cx="435.9" cy="345.4" rx="2" ry="1" fill="#cecefa" stroke="#101010" stroke-width="0.55"/><path d="M72 289.5L77.3 289.5L77.9 309.8A2.6 1.4 0 0 1 72.6 309.8Z" fill="#1a60c6" stroke="#101010" stroke-width="0.65"/><path d="M75.4 289.5L76.9 289.5L77.5 309.8L76 309.8Z" fill="#0a3c80" opacity="0.6"/><ellipse cx="74.7" cy="289.5" rx="2.6" ry="1.4" fill="#1a60c6" stroke="#101010" stroke-width="0.55"/><path d="M89.9 309L94 309L94.1 311.8A2 1.1 0 0 1 90 311.8Z" fill="#1a60c6" stroke="#101010" stroke-width="0.65"/><path d="M92.5 309L93.6 309L93.7 311.8L92.6 311.8Z" fill="#0a3c80" opacity="0.6"/><ellipse cx="92" cy="309" rx="2" ry="1.1" fill="#1a60c6" stroke="#101010" stroke-width="0.55"/><path d="M96.5 303.3L100.2 303.3L100.5 312.6A1.9 1 0 0 1 96.8 312.6Z" fill="#1a60c6" stroke="#101010" stroke-width="0.65"/><path d="M98.9 303.3L99.8 303.3L100.1 312.6L99.1 312.6Z" fill="#0a3c80" opacity="0.6"/><ellipse cx="98.3" cy="303.3" rx="1.9" ry="1" fill="#1a60c6" stroke="#101010" stroke-width="0.55"/><path d="M103.8 304L107.5 304L107.8 313.5A1.9 1 0 0 1 104.1 313.5Z" fill="#1a60c6" stroke="#101010" stroke-width="0.65"/><path d="M106.2 304L107.1 304L107.4 313.5L106.4 313.5Z" fill="#0a3c80" opacity="0.6"/><ellipse cx="105.7" cy="304" rx="1.9" ry="1" fill="#1a60c6" stroke="#101010" stroke-width="0.55"/><path d="M109.6 256L115.5 256L117 314.4A3 1.4 0 0 1 111.1 314.4Z" fill="#1a60c6" stroke="#101010" stroke-width="0.65"/><path d="M113.4 256L115.1 256L116.6 314.4L114.9 314.4Z" fill="#0a3c80" opacity="0.6"/><ellipse cx="112.5" cy="256" rx="3" ry="1.4" fill="#1a60c6" stroke="#101010" stroke-width="0.55"/><path d="M127.4 310.6L131.1 310.6L131.2 316.3A1.8 1 0 0 1 127.5 316.3Z" fill="#1a60c6" stroke="#101010" stroke-width="0.65"/><path d="M129.8 310.6L130.7 310.6L130.8 316.3L129.9 316.3Z" fill="#0a3c80" opacity="0.6"/><ellipse cx="129.2" cy="310.6" rx="1.8" ry="1" fill="#1a60c6" stroke="#101010" stroke-width="0.55"/><path d="M135 306L139.4 306L139.6 317.2A2.2 1.1 0 0 1 135.2 317.2Z" fill="#1a60c6" stroke="#101010" stroke-width="0.65"/><path d="M137.8 306L139 306L139.2 317.2L138.1 317.2Z" fill="#0a3c80" opacity="0.6"/><ellipse cx="137.2" cy="306" rx="2.2" ry="1.1" fill="#1a60c6" stroke="#101010" stroke-width="0.55"/><path d="M143.7 312.9L147.4 312.9L147.5 318.2A1.9 1 0 0 1 143.8 318.2Z" fill="#1a60c6" stroke="#101010" stroke-width="0.65"/><path d="M146.1 312.9L147 312.9L147.1 318.2L146.2 318.2Z" fill="#0a3c80" opacity="0.6"/><ellipse cx="145.6" cy="312.9" rx="1.9" ry="1" fill="#1a60c6" stroke="#101010" stroke-width="0.55"/><path d="M166.3 307L171.3 307L171.5 321A2.5 1.3 0 0 1 166.5 321Z" fill="#1a60c6" stroke="#101010" stroke-width="0.65"/><path d="M169.5 307L170.9 307L171.1 321L169.7 321Z" fill="#0a3c80" opacity="0.6"/><ellipse cx="168.8" cy="307" rx="2.5" ry="1.3" fill="#1a60c6" stroke="#101010" stroke-width="0.55"/><path d="M175.2 311.5L180.1 311.5L180.3 322.1A2.5 1.3 0 0 1 175.4 322.1Z" fill="#1a60c6" stroke="#101010" stroke-width="0.65"/><path d="M178.3 311.5L179.7 311.5L179.9 322.1L178.5 322.1Z" fill="#0a3c80" opacity="0.6"/><ellipse cx="177.6" cy="311.5" rx="2.5" ry="1.3" fill="#1a60c6" stroke="#101010" stroke-width="0.55"/><path d="M214.9 227.5L220.4 227.5L221.1 327A2.8 1.4 0 0 1 215.6 327Z" fill="#1a60c6" stroke="#101010" stroke-width="0.65"/><path d="M218.4 227.5L220 227.5L220.7 327L219.1 327Z" fill="#0a3c80" opacity="0.6"/><ellipse cx="217.7" cy="227.5" rx="2.8" ry="1.4" fill="#1a60c6" stroke="#101010" stroke-width="0.55"/><path d="M223.3 278.6L228.2 278.6L228.5 327.9A2.4 1.3 0 0 1 223.6 327.9Z" fill="#1a60c6" stroke="#101010" stroke-width="0.65"/><path d="M226.4 278.6L227.8 278.6L228.1 327.9L226.7 327.9Z" fill="#0a3c80" opacity="0.6"/><ellipse cx="225.8" cy="278.6" rx="2.4" ry="1.3" fill="#1a60c6" stroke="#101010" stroke-width="0.55"/><path d="M240 266.8L245 266.8L245.2 329.9A2.5 1.3 0 0 1 240.2 329.9Z" fill="#1a60c6" stroke="#101010" stroke-width="0.65"/><path d="M243.2 266.8L244.6 266.8L244.8 329.9L243.4 329.9Z" fill="#0a3c80" opacity="0.6"/><ellipse cx="242.5" cy="266.8" rx="2.5" ry="1.3" fill="#1a60c6" stroke="#101010" stroke-width="0.55"/><path d="M249.8 304L254.7 304L254.7 331A2.4 1.3 0 0 1 249.8 331Z" fill="#1a60c6" stroke="#101010" stroke-width="0.65"/><path d="M252.9 304L254.3 304L254.3 331L253 331Z" fill="#0a3c80" opacity="0.6"/><ellipse cx="252.2" cy="304" rx="2.4" ry="1.3" fill="#1a60c6" stroke="#101010" stroke-width="0.55"/><path d="M265.1 286.3L270.5 286.3L270.4 332.9A2.7 1.4 0 0 1 265 332.9Z" fill="#1a60c6" stroke="#101010" stroke-width="0.65"/><path d="M268.6 286.3L270.1 286.3L270 332.9L268.5 332.9Z" fill="#0a3c80" opacity="0.6"/><ellipse cx="267.8" cy="286.3" rx="2.7" ry="1.4" fill="#1a60c6" stroke="#101010" stroke-width="0.55"/><path d="M273.8 292.2L278.9 292.2L278.8 333.9A2.5 1.3 0 0 1 273.7 333.9Z" fill="#1a60c6" stroke="#101010" stroke-width="0.65"/><path d="M277.1 292.2L278.5 292.2L278.4 333.9L277 333.9Z" fill="#0a3c80" opacity="0.6"/><ellipse cx="276.4" cy="292.2" rx="2.5" ry="1.3" fill="#1a60c6" stroke="#101010" stroke-width="0.55"/><path d="M299.5 321.5L303.8 321.5L303.7 336.9A2.2 1.1 0 0 1 299.4 336.9Z" fill="#1a60c6" stroke="#101010" stroke-width="0.65"/><path d="M302.3 321.5L303.4 321.5L303.3 336.9L302.1 336.9Z" fill="#0a3c80" opacity="0.6"/><ellipse cx="301.6" cy="321.5" rx="2.2" ry="1.1" fill="#1a60c6" stroke="#101010" stroke-width="0.55"/><path d="M307.8 333.7L311.9 333.7L311.8 337.9A2 1.1 0 0 1 307.7 337.9Z" fill="#1a60c6" stroke="#101010" stroke-width="0.65"/><path d="M310.4 333.7L311.5 333.7L311.4 337.9L310.4 337.9Z" fill="#0a3c80" opacity="0.6"/><ellipse cx="309.8" cy="333.7" rx="2" ry="1.1" fill="#1a60c6" stroke="#101010" stroke-width="0.55"/><path d="M316.7 336L320 336L320 339A1.7 0.9 0 0 1 316.7 339Z" fill="#1a60c6" stroke="#101010" stroke-width="0.65"/><path d="M318.8 336L319.6 336L319.6 339L318.8 339Z" fill="#0a3c80" opacity="0.6"/><ellipse cx="318.4" cy="336" rx="1.7" ry="0.9" fill="#1a60c6" stroke="#101010" stroke-width="0.55"/><path d="M324.5 335.8L328.4 335.8L328.4 339.9A1.9 1 0 0 1 324.5 339.9Z" fill="#1a60c6" stroke="#101010" stroke-width="0.65"/><path d="M327 335.8L328 335.8L328 339.9L326.9 339.9Z" fill="#0a3c80" opacity="0.6"/><ellipse cx="326.4" cy="335.8" rx="1.9" ry="1" fill="#1a60c6" stroke="#101010" stroke-width="0.55"/><path d="M342.2 329L347.1 329L346.9 342.1A2.5 1.3 0 0 1 342 342.1Z" fill="#1a60c6" stroke="#101010" stroke-width="0.65"/><path d="M345.3 329L346.7 329L346.5 342.1L345.1 342.1Z" fill="#0a3c80" opacity="0.6"/><ellipse cx="344.6" cy="329" rx="2.5" ry="1.3" fill="#1a60c6" stroke="#101010" stroke-width="0.55"/><path d="M353 333.7L357 333.7L356.8 343.3A2 1 0 0 1 352.8 343.3Z" fill="#1a60c6" stroke="#101010" stroke-width="0.65"/><path d="M355.6 333.7L356.6 333.7L356.4 343.3L355.4 343.3Z" fill="#0a3c80" opacity="0.6"/><ellipse cx="355" cy="333.7" rx="2" ry="1" fill="#1a60c6" stroke="#101010" stroke-width="0.55"/><path d="M359.2 337L363.8 337L363.7 344.1A2.3 1.2 0 0 1 359.1 344.1Z" fill="#1a60c6" stroke="#101010" stroke-width="0.65"/><path d="M362.1 337L363.4 337L363.3 344.1L362 344.1Z" fill="#0a3c80" opacity="0.6"/><ellipse cx="361.5" cy="337" rx="2.3" ry="1.2" fill="#1a60c6" stroke="#101010" stroke-width="0.55"/><path d="M387.3 273.8L391.7 273.8L390.1 347.3A2.2 1.1 0 0 1 385.7 347.3Z" fill="#1a60c6" stroke="#101010" stroke-width="0.65"/><path d="M390.1 273.8L391.3 273.8L389.7 347.3L388.5 347.3Z" fill="#0a3c80" opacity="0.6"/><ellipse cx="389.5" cy="273.8" rx="2.2" ry="1.1" fill="#1a60c6" stroke="#101010" stroke-width="0.55"/><path d="M398.2 205.9L402.4 205.9L399 348.4A2.1 1.1 0 0 1 394.8 348.4Z" fill="#1a60c6" stroke="#101010" stroke-width="0.65"/><path d="M400.9 205.9L402 205.9L398.6 348.4L397.5 348.4Z" fill="#0a3c80" opacity="0.6"/><ellipse cx="400.3" cy="205.9" rx="2.1" ry="1.1" fill="#1a60c6" stroke="#101010" stroke-width="0.55"/><path d="M408.7 150L413.7 150L408.7 349.5A2.5 1.3 0 0 1 403.7 349.5Z" fill="#1a60c6" stroke="#101010" stroke-width="0.65"/><path d="M411.9 150L413.3 150L408.3 349.5L406.9 349.5Z" fill="#0a3c80" opacity="0.6"/><ellipse cx="411.2" cy="150" rx="2.5" ry="1.3" fill="#1a60c6" stroke="#101010" stroke-width="0.55"/><path d="M414 342.9L419.2 342.9L419 350.7A2.6 1.4 0 0 1 413.8 350.7Z" fill="#1a60c6" stroke="#101010" stroke-width="0.65"/><path d="M417.3 342.9L418.8 342.9L418.6 350.7L417.1 350.7Z" fill="#0a3c80" opacity="0.6"/><ellipse cx="416.6" cy="342.9" rx="2.6" ry="1.4" fill="#1a60c6" stroke="#101010" stroke-width="0.55"/><path d="M422.3 345L427.5 345L427.3 351.7A2.6 1.4 0 0 1 422.1 351.7Z" fill="#1a60c6" stroke="#101010" stroke-width="0.65"/><path d="M425.6 345L427.1 345L426.9 351.7L425.4 351.7Z" fill="#0a3c80" opacity="0.6"/><ellipse cx="424.9" cy="345" rx="2.6" ry="1.4" fill="#1a60c6" stroke="#101010" stroke-width="0.55"/><path d="M440.2 328.6L444.9 328.6L444.1 353.8A2.3 1.2 0 0 1 439.4 353.8Z" fill="#1a60c6" stroke="#101010" stroke-width="0.65"/><path d="M443.2 328.6L444.5 328.6L443.7 353.8L442.4 353.8Z" fill="#0a3c80" opacity="0.6"/><ellipse cx="442.5" cy="328.6" rx="2.3" ry="1.2" fill="#1a60c6" stroke="#101010" stroke-width="0.55"/><path d="M459.1 352.7L463.2 352.7L463.1 356.1A2 1.1 0 0 1 459 356.1Z" fill="#1a60c6" stroke="#101010" stroke-width="0.65"/><path d="M461.7 352.7L462.8 352.7L462.7 356.1L461.6 356.1Z" fill="#0a3c80" opacity="0.6"/><ellipse cx="461.1" cy="352.7" rx="2" ry="1.1" fill="#1a60c6" stroke="#101010" stroke-width="0.55"/><path d="M471.8 230.4L476.7 230.4L472.1 357.1A2.4 1.3 0 0 1 467.2 357.1Z" fill="#1a60c6" stroke="#101010" stroke-width="0.65"/><path d="M474.9 230.4L476.3 230.4L471.7 357.1L470.3 357.1Z" fill="#0a3c80" opacity="0.6"/><ellipse cx="474.2" cy="230.4" rx="2.4" ry="1.3" fill="#1a60c6" stroke="#101010" stroke-width="0.55"/><path d="M108.2 295.3L111.5 295.3L112.1 317.3A1.6 0.9 0 0 1 108.8 317.3Z" fill="#fa8282" stroke="#101010" stroke-width="0.65"/><path d="M110.3 295.3L111.1 295.3L111.7 317.3L110.9 317.3Z" fill="#b05050" opacity="0.6"/><ellipse cx="109.8" cy="295.3" rx="1.6" ry="0.9" fill="#fa8282" stroke="#101010" stroke-width="0.55"/><path d="M171.3 318.9L176.2 318.9L176.3 324.9A2.4 1.3 0 0 1 171.4 324.9Z" fill="#fa8282" stroke="#101010" stroke-width="0.65"/><path d="M174.4 318.9L175.8 318.9L175.9 324.9L174.5 324.9Z" fill="#b05050" opacity="0.6"/><ellipse cx="173.8" cy="318.9" rx="2.4" ry="1.3" fill="#fa8282" stroke="#101010" stroke-width="0.55"/><path d="M212.5 325.7L216.4 325.7L216.4 329.9A2 1 0 0 1 212.5 329.9Z" fill="#fa8282" stroke="#101010" stroke-width="0.65"/><path d="M215 325.7L216 325.7L216 329.9L215 329.9Z" fill="#b05050" opacity="0.6"/><ellipse cx="214.4" cy="325.7" rx="2" ry="1" fill="#fa8282" stroke="#101010" stroke-width="0.55"/><path d="M236.7 325.8L241.1 325.8L241.1 332.8A2.2 1.1 0 0 1 236.7 332.8Z" fill="#fa8282" stroke="#101010" stroke-width="0.65"/><path d="M239.5 325.8L240.7 325.8L240.7 332.8L239.5 332.8Z" fill="#b05050" opacity="0.6"/><ellipse cx="238.9" cy="325.8" rx="2.2" ry="1.1" fill="#fa8282" stroke="#101010" stroke-width="0.55"/><path d="M271.2 321.5L274.6 321.5L274.6 336.9A1.7 0.9 0 0 1 271.2 336.9Z" fill="#fa8282" stroke="#101010" stroke-width="0.65"/><path d="M273.4 321.5L274.2 321.5L274.2 336.9L273.3 336.9Z" fill="#b05050" opacity="0.6"/><ellipse cx="272.9" cy="321.5" rx="1.7" ry="0.9" fill="#fa8282" stroke="#101010" stroke-width="0.55"/><path d="M287.6 336.9L291.7 336.9L291.7 338.9A2.1 1.1 0 0 1 287.6 338.9Z" fill="#fa8282" stroke="#101010" stroke-width="0.65"/><path d="M290.2 336.9L291.3 336.9L291.3 338.9L290.2 338.9Z" fill="#b05050" opacity="0.6"/><ellipse cx="289.6" cy="336.9" rx="2.1" ry="1.1" fill="#fa8282" stroke="#101010" stroke-width="0.55"/><path d="M296.1 332.6L300.4 332.6L300.4 340A2.1 1.1 0 0 1 296.1 340Z" fill="#fa8282" stroke="#101010" stroke-width="0.65"/><path d="M298.9 332.6L300 332.6L300 340L298.8 340Z" fill="#b05050" opacity="0.6"/><ellipse cx="298.2" cy="332.6" rx="2.1" ry="1.1" fill="#fa8282" stroke="#101010" stroke-width="0.55"/><path d="M64.7 300.5L69.5 300.5L70 315.4A2.4 1.2 0 0 1 65.2 315.4Z" fill="#5a0a5e" stroke="#101010" stroke-width="0.65"/><path d="M67.8 300.5L69.1 300.5L69.6 315.4L68.3 315.4Z" fill="#3a003c" opacity="0.6"/><ellipse cx="67.1" cy="300.5" rx="2.4" ry="1.2" fill="#5a0a5e" stroke="#101010" stroke-width="0.55"/><path d="M84.2 314L87.2 314L87.3 317.6A1.5 0.8 0 0 1 84.3 317.6Z" fill="#5a0a5e" stroke="#101010" stroke-width="0.65"/><path d="M86.1 314L86.8 314L86.9 317.6L86.2 317.6Z" fill="#3a003c" opacity="0.6"/><ellipse cx="85.7" cy="314" rx="1.5" ry="0.8" fill="#5a0a5e" stroke="#101010" stroke-width="0.55"/><path d="M85 309.5L88 309.5L88.6 329A1.5 0.8 0 0 1 85.6 329Z" fill="#5a0a5e" stroke="#101010" stroke-width="0.65"/><path d="M86.9 309.5L87.6 309.5L88.2 329L87.5 329Z" fill="#3a003c" opacity="0.6"/><ellipse cx="86.5" cy="309.5" rx="1.5" ry="0.8" fill="#5a0a5e" stroke="#101010" stroke-width="0.55"/><path d="M103 279.6L108.2 279.6L109.3 320.1A2.6 1.4 0 0 1 104.1 320.1Z" fill="#5a0a5e" stroke="#101010" stroke-width="0.65"/><path d="M106.3 279.6L107.8 279.6L108.9 320.1L107.4 320.1Z" fill="#3a003c" opacity="0.6"/><ellipse cx="105.6" cy="279.6" rx="2.6" ry="1.4" fill="#5a0a5e" stroke="#101010" stroke-width="0.55"/><path d="M119.3 312.1L124.5 312.1L124.7 322A2.6 1.4 0 0 1 119.5 322Z" fill="#5a0a5e" stroke="#101010" stroke-width="0.65"/><path d="M122.6 312.1L124.1 312.1L124.3 322L122.9 322Z" fill="#3a003c" opacity="0.6"/><ellipse cx="121.9" cy="312.1" rx="2.6" ry="1.4" fill="#5a0a5e" stroke="#101010" stroke-width="0.55"/><path d="M150.5 319L155 319L155.1 325.8A2.2 1.2 0 0 1 150.6 325.8Z" fill="#5a0a5e" stroke="#101010" stroke-width="0.65"/><path d="M153.4 319L154.6 319L154.7 325.8L153.5 325.8Z" fill="#3a003c" opacity="0.6"/><ellipse cx="152.8" cy="319" rx="2.2" ry="1.2" fill="#5a0a5e" stroke="#101010" stroke-width="0.55"/><path d="M192.4 327.9L196.6 327.9L196.6 330.8A2.1 1.1 0 0 1 192.4 330.8Z" fill="#5a0a5e" stroke="#101010" stroke-width="0.65"/><path d="M195.1 327.9L196.2 327.9L196.2 330.8L195.1 330.8Z" fill="#3a003c" opacity="0.6"/><ellipse cx="194.5" cy="327.9" rx="2.1" ry="1.1" fill="#5a0a5e" stroke="#101010" stroke-width="0.55"/><path d="M209.6 315L214.5 315L214.7 333A2.5 1.3 0 0 1 209.8 333Z" fill="#5a0a5e" stroke="#101010" stroke-width="0.65"/><path d="M212.7 315L214.1 315L214.3 333L212.9 333Z" fill="#3a003c" opacity="0.6"/><ellipse cx="212.1" cy="315" rx="2.5" ry="1.3" fill="#5a0a5e" stroke="#101010" stroke-width="0.55"/><path d="M225.3 333L229.5 333L229.5 334.8A2.1 1.1 0 0 1 225.3 334.8Z" fill="#5a0a5e" stroke="#101010" stroke-width="0.65"/><path d="M228 333L229.1 333L229.1 334.8L228 334.8Z" fill="#3a003c" opacity="0.6"/><ellipse cx="227.4" cy="333" rx="2.1" ry="1.1" fill="#5a0a5e" stroke="#101010" stroke-width="0.55"/><path d="M250.4 334.1L254.6 334.1L254.6 337.9A2.1 1.1 0 0 1 250.4 337.9Z" fill="#5a0a5e" stroke="#101010" stroke-width="0.65"/><path d="M253.1 334.1L254.2 334.1L254.2 337.9L253.1 337.9Z" fill="#3a003c" opacity="0.6"/><ellipse cx="252.5" cy="334.1" rx="2.1" ry="1.1" fill="#5a0a5e" stroke="#101010" stroke-width="0.55"/><path d="M258.8 336.7L263 336.7L263 338.9A2.1 1.1 0 0 1 258.8 338.9Z" fill="#5a0a5e" stroke="#101010" stroke-width="0.65"/><path d="M261.5 336.7L262.6 336.7L262.6 338.9L261.5 338.9Z" fill="#3a003c" opacity="0.6"/><ellipse cx="260.9" cy="336.7" rx="2.1" ry="1.1" fill="#5a0a5e" stroke="#101010" stroke-width="0.55"/><path d="M311.5 344.7L315 344.7L315 345.7A1.8 0.9 0 0 1 311.5 345.7Z" fill="#5a0a5e" stroke="#101010" stroke-width="0.65"/><path d="M313.7 344.7L314.6 344.7L314.6 345.7L313.7 345.7Z" fill="#3a003c" opacity="0.6"/><ellipse cx="313.2" cy="344.7" rx="1.8" ry="0.9" fill="#5a0a5e" stroke="#101010" stroke-width="0.55"/><path d="M327.7 344.5L331.9 344.5L331.9 347.3A2.1 1.1 0 0 1 327.7 347.3Z" fill="#5a0a5e" stroke="#101010" stroke-width="0.65"/><path d="M330.4 344.5L331.5 344.5L331.5 347.3L330.4 347.3Z" fill="#3a003c" opacity="0.6"/><ellipse cx="329.8" cy="344.5" rx="2.1" ry="1.1" fill="#5a0a5e" stroke="#101010" stroke-width="0.55"/><path d="M402.3 286.7L406.6 286.7L404.7 362A2.2 1.1 0 0 1 400.4 362Z" fill="#8a2c5c" stroke="#101010" stroke-width="0.65"/><path d="M405.1 286.7L406.2 286.7L404.3 362L403.2 362Z" fill="#501430" opacity="0.6"/><ellipse cx="404.5" cy="286.7" rx="2.2" ry="1.1" fill="#8a2c5c" stroke="#101010" stroke-width="0.55"/><path d="M418 350.3L422.4 350.3L422.2 358.8A2.2 1.1 0 0 1 417.8 358.8Z" fill="#8a2c5c" stroke="#101010" stroke-width="0.65"/><path d="M420.8 350.3L422 350.3L421.8 358.8L420.6 358.8Z" fill="#501430" opacity="0.6"/><ellipse cx="420.2" cy="350.3" rx="2.2" ry="1.1" fill="#8a2c5c" stroke="#101010" stroke-width="0.55"/><path d="M427.6 353.7L431.9 353.7L431.7 360.5A2.1 1.1 0 0 1 427.4 360.5Z" fill="#8a2c5c" stroke="#101010" stroke-width="0.65"/><path d="M430.4 353.7L431.5 353.7L431.3 360.5L430.2 360.5Z" fill="#501430" opacity="0.6"/><ellipse cx="429.8" cy="353.7" rx="2.1" ry="1.1" fill="#8a2c5c" stroke="#101010" stroke-width="0.55"/><path d="M435.5 318.8L440.4 318.8L439.3 354A2.4 1.3 0 0 1 434.4 354Z" fill="#5a0a5e" stroke="#101010" stroke-width="0.65"/><path d="M438.6 318.8L440 318.8L438.9 354L437.6 354Z" fill="#3a003c" opacity="0.6"/><ellipse cx="437.9" cy="318.8" rx="2.4" ry="1.3" fill="#5a0a5e" stroke="#101010" stroke-width="0.55"/><path d="M448 322.7L452.8 322.7L451.5 361.8A2.4 1.2 0 0 1 446.7 361.8Z" fill="#5a0a5e" stroke="#101010" stroke-width="0.65"/><path d="M451.1 322.7L452.4 322.7L451.1 361.8L449.8 361.8Z" fill="#3a003c" opacity="0.6"/><ellipse cx="450.4" cy="322.7" rx="2.4" ry="1.2" fill="#5a0a5e" stroke="#101010" stroke-width="0.55"/><path d="M463.6 315.7L468.2 315.7L466.5 363.7A2.3 1.2 0 0 1 461.9 363.7Z" fill="#5a0a5e" stroke="#101010" stroke-width="0.65"/><path d="M466.5 315.7L467.8 315.7L466.1 363.7L464.8 363.7Z" fill="#3a003c" opacity="0.6"/><ellipse cx="465.9" cy="315.7" rx="2.3" ry="1.2" fill="#5a0a5e" stroke="#101010" stroke-width="0.55"/><path d="M468.4 324L474.6 324L473.1 365A3.1 1.4 0 0 1 466.9 365Z" fill="#5a0a5e" stroke="#101010" stroke-width="0.65"/><path d="M472.4 324L474.2 324L472.7 365L470.9 365Z" fill="#3a003c" opacity="0.6"/><ellipse cx="471.5" cy="324" rx="3.1" ry="1.4" fill="#5a0a5e" stroke="#101010" stroke-width="0.55"/><path d="M481.5 339L486.5 339L486 351A2.5 1.3 0 0 1 481 351Z" fill="#5a0a5e" stroke="#101010" stroke-width="0.65"/><path d="M484.7 339L486.1 339L485.6 351L484.2 351Z" fill="#3a003c" opacity="0.6"/><ellipse cx="484" cy="339" rx="2.5" ry="1.3" fill="#5a0a5e" stroke="#101010" stroke-width="0.55"/><path d="M132 323.8L135 323.8L135.1 326.8A1.5 0.8 0 0 1 132.1 326.8Z" fill="#d0fafa" stroke="#101010" stroke-width="0.65"/><path d="M133.9 323.8L134.6 323.8L134.7 326.8L134 326.8Z" fill="#80a8a8" opacity="0.6"/><ellipse cx="133.5" cy="323.8" rx="1.5" ry="0.8" fill="#d0fafa" stroke="#101010" stroke-width="0.55"/><path d="M172.3 329L176.6 329L176.7 331.8A2.1 1.1 0 0 1 172.4 331.8Z" fill="#d0fafa" stroke="#101010" stroke-width="0.65"/><path d="M175.1 329L176.2 329L176.3 331.8L175.1 331.8Z" fill="#80a8a8" opacity="0.6"/><ellipse cx="174.5" cy="329" rx="2.1" ry="1.1" fill="#d0fafa" stroke="#101010" stroke-width="0.55"/><path d="M188.7 330.8L192.9 330.8L193 333.8A2.1 1.1 0 0 1 188.7 333.8Z" fill="#d0fafa" stroke="#101010" stroke-width="0.65"/><path d="M191.4 330.8L192.5 330.8L192.6 333.8L191.4 333.8Z" fill="#80a8a8" opacity="0.6"/><ellipse cx="190.8" cy="330.8" rx="2.1" ry="1.1" fill="#d0fafa" stroke="#101010" stroke-width="0.55"/><path d="M196.9 331.3L201.2 331.3L201.2 334.8A2.1 1.1 0 0 1 196.9 334.8Z" fill="#d0fafa" stroke="#101010" stroke-width="0.65"/><path d="M199.6 331.3L200.8 331.3L200.8 334.8L199.7 334.8Z" fill="#80a8a8" opacity="0.6"/><ellipse cx="199" cy="331.3" rx="2.1" ry="1.1" fill="#d0fafa" stroke="#101010" stroke-width="0.55"/><path d="M205.6 322.8L209.6 322.8L209.7 335.9A2 1 0 0 1 205.7 335.9Z" fill="#d0fafa" stroke="#101010" stroke-width="0.65"/><path d="M208.2 322.8L209.2 322.8L209.3 335.9L208.3 335.9Z" fill="#80a8a8" opacity="0.6"/><ellipse cx="207.6" cy="322.8" rx="2" ry="1" fill="#d0fafa" stroke="#101010" stroke-width="0.55"/><path d="M291 343.8L294.4 343.8L294.4 346.3A1.7 0.9 0 0 1 291 346.3Z" fill="#d0fafa" stroke="#101010" stroke-width="0.65"/><path d="M293.2 343.8L294 343.8L294 346.3L293.2 346.3Z" fill="#80a8a8" opacity="0.6"/><ellipse cx="292.7" cy="343.8" rx="1.7" ry="0.9" fill="#d0fafa" stroke="#101010" stroke-width="0.55"/><path d="M299.5 345.5L303 345.5L303 347.4A1.8 0.9 0 0 1 299.5 347.4Z" fill="#d0fafa" stroke="#101010" stroke-width="0.65"/><path d="M301.7 345.5L302.6 345.5L302.6 347.4L301.7 347.4Z" fill="#80a8a8" opacity="0.6"/><ellipse cx="301.2" cy="345.5" rx="1.8" ry="0.9" fill="#d0fafa" stroke="#101010" stroke-width="0.55"/><path d="M334.3 334.8L338.2 334.8L338 351.6A1.9 1 0 0 1 334.1 351.6Z" fill="#d0fafa" stroke="#101010" stroke-width="0.65"/><path d="M336.8 334.8L337.8 334.8L337.6 351.6L336.6 351.6Z" fill="#80a8a8" opacity="0.6"/><ellipse cx="336.2" cy="334.8" rx="1.9" ry="1" fill="#d0fafa" stroke="#101010" stroke-width="0.55"/><path d="M378.3 353.5L382.6 353.5L382.5 357.1A2.1 1.1 0 0 1 378.2 357.1Z" fill="#d0fafa" stroke="#101010" stroke-width="0.65"/><path d="M381 353.5L382.2 353.5L382.1 357.1L381 357.1Z" fill="#80a8a8" opacity="0.6"/><ellipse cx="380.4" cy="353.5" rx="2.1" ry="1.1" fill="#d0fafa" stroke="#101010" stroke-width="0.55"/><path d="M462.4 344.9L465.9 344.9L465.1 367.3A1.8 0.9 0 0 1 461.6 367.3Z" fill="#d0fafa" stroke="#101010" stroke-width="0.65"/><path d="M464.6 344.9L465.5 344.9L464.7 367.3L463.9 367.3Z" fill="#80a8a8" opacity="0.6"/><ellipse cx="464.1" cy="344.9" rx="1.8" ry="0.9" fill="#d0fafa" stroke="#101010" stroke-width="0.55"/><path d="M100.2 315.8L103.1 315.8L103.4 326.3A1.4 0.8 0 0 1 100.5 326.3Z" fill="#fcfcd0" stroke="#101010" stroke-width="0.65"/><path d="M102.1 315.8L102.7 315.8L103 326.3L102.3 326.3Z" fill="#a8a888" opacity="0.6"/><ellipse cx="101.7" cy="315.8" rx="1.4" ry="0.8" fill="#fcfcd0" stroke="#101010" stroke-width="0.55"/><path d="M131.9 324L134.8 324L134.9 330.2A1.5 0.8 0 0 1 132 330.2Z" fill="#fcfcd0" stroke="#101010" stroke-width="0.65"/><path d="M133.8 324L134.4 324L134.5 330.2L133.9 330.2Z" fill="#a8a888" opacity="0.6"/><ellipse cx="133.4" cy="324" rx="1.5" ry="0.8" fill="#fcfcd0" stroke="#101010" stroke-width="0.55"/><path d="M154.4 326.5L157.4 326.5L157.5 333A1.5 0.8 0 0 1 154.5 333Z" fill="#fcfcd0" stroke="#101010" stroke-width="0.65"/><path d="M156.3 326.5L157 326.5L157.1 333L156.4 333Z" fill="#a8a888" opacity="0.6"/><ellipse cx="155.9" cy="326.5" rx="1.5" ry="0.8" fill="#fcfcd0" stroke="#101010" stroke-width="0.55"/><path d="M168.5 333.1L172.9 333.1L172.9 334.8A2.2 1.1 0 0 1 168.5 334.8Z" fill="#fcfcd0" stroke="#101010" stroke-width="0.65"/><path d="M171.3 333.1L172.5 333.1L172.5 334.8L171.3 334.8Z" fill="#a8a888" opacity="0.6"/><ellipse cx="170.7" cy="333.1" rx="2.2" ry="1.1" fill="#fcfcd0" stroke="#101010" stroke-width="0.55"/><path d="M176.7 332.3L181 332.3L181.1 335.8A2.2 1.1 0 0 1 176.7 335.8Z" fill="#fcfcd0" stroke="#101010" stroke-width="0.65"/><path d="M179.5 332.3L180.6 332.3L180.7 335.8L179.5 335.8Z" fill="#a8a888" opacity="0.6"/><ellipse cx="178.9" cy="332.3" rx="2.2" ry="1.1" fill="#fcfcd0" stroke="#101010" stroke-width="0.55"/><path d="M231.5 337.6L233.8 337.6L233.8 342.5A1.2 0.7 0 0 1 231.5 342.5Z" fill="#fcfcd0" stroke="#101010" stroke-width="0.65"/><path d="M233 337.6L233.4 337.6L233.4 342.5L233 342.5Z" fill="#a8a888" opacity="0.6"/><ellipse cx="232.7" cy="337.6" rx="1.2" ry="0.7" fill="#fcfcd0" stroke="#101010" stroke-width="0.55"/><path d="M415 359.6L419.2 359.6L419 365.3A2.1 1.1 0 0 1 414.8 365.3Z" fill="#fcfcd0" stroke="#101010" stroke-width="0.65"/><path d="M417.7 359.6L418.8 359.6L418.6 365.3L417.5 365.3Z" fill="#a8a888" opacity="0.6"/><ellipse cx="417.1" cy="359.6" rx="2.1" ry="1.1" fill="#fcfcd0" stroke="#101010" stroke-width="0.55"/><path d="M451.9 356.6L455.4 356.6L455 369.7A1.8 0.9 0 0 1 451.5 369.7Z" fill="#fcfcd0" stroke="#101010" stroke-width="0.65"/><path d="M454.1 356.6L455 356.6L454.6 369.7L453.7 369.7Z" fill="#a8a888" opacity="0.6"/><ellipse cx="453.6" cy="356.6" rx="1.8" ry="0.9" fill="#fcfcd0" stroke="#101010" stroke-width="0.55"/><path d="M52.2 314.9L56 314.9L56.3 323.8A1.9 1 0 0 1 52.5 323.8Z" fill="#8a2c5c" stroke="#101010" stroke-width="0.65"/><path d="M54.6 314.9L55.6 314.9L55.9 323.8L54.9 323.8Z" fill="#501430" opacity="0.6"/><ellipse cx="54.1" cy="314.9" rx="1.9" ry="1" fill="#8a2c5c" stroke="#101010" stroke-width="0.55"/><path d="M61 309.3L64.9 309.3L65.4 324.9A2 1 0 0 1 61.5 324.9Z" fill="#8a2c5c" stroke="#101010" stroke-width="0.65"/><path d="M63.5 309.3L64.5 309.3L65 324.9L64 324.9Z" fill="#501430" opacity="0.6"/><ellipse cx="63" cy="309.3" rx="2" ry="1" fill="#8a2c5c" stroke="#101010" stroke-width="0.55"/><path d="M69.3 306L72.6 306L73.3 325.9A1.6 0.9 0 0 1 70 325.9Z" fill="#8a2c5c" stroke="#101010" stroke-width="0.65"/><path d="M71.4 306L72.2 306L72.9 325.9L72.1 325.9Z" fill="#501430" opacity="0.6"/><ellipse cx="70.9" cy="306" rx="1.6" ry="0.9" fill="#8a2c5c" stroke="#101010" stroke-width="0.55"/><path d="M76 301L80.4 301L81.2 326.9A2.2 1.1 0 0 1 76.8 326.9Z" fill="#8a2c5c" stroke="#101010" stroke-width="0.65"/><path d="M78.8 301L80 301L80.8 326.9L79.6 326.9Z" fill="#501430" opacity="0.6"/><ellipse cx="78.2" cy="301" rx="2.2" ry="1.1" fill="#8a2c5c" stroke="#101010" stroke-width="0.55"/><path d="M93 296L95.5 296L96.4 328.9A1.2 0.7 0 0 1 93.9 328.9Z" fill="#8a2c5c" stroke="#101010" stroke-width="0.65"/><path d="M94.6 296L95.1 296L96 328.9L95.5 328.9Z" fill="#501430" opacity="0.6"/><ellipse cx="94.2" cy="296" rx="1.2" ry="0.7" fill="#8a2c5c" stroke="#101010" stroke-width="0.55"/><path d="M95 318L98 318L98.3 329.1A1.5 0.8 0 0 1 95.3 329.1Z" fill="#8a2c5c" stroke="#101010" stroke-width="0.65"/><path d="M96.9 318L97.6 318L97.9 329.1L97.2 329.1Z" fill="#501430" opacity="0.6"/><ellipse cx="96.5" cy="318" rx="1.5" ry="0.8" fill="#8a2c5c" stroke="#101010" stroke-width="0.55"/><path d="M106.4 310L110.8 310L111.3 330.6A2.2 1.1 0 0 1 106.9 330.6Z" fill="#8a2c5c" stroke="#101010" stroke-width="0.65"/><path d="M109.2 310L110.4 310L110.9 330.6L109.8 330.6Z" fill="#501430" opacity="0.6"/><ellipse cx="108.6" cy="310" rx="2.2" ry="1.1" fill="#8a2c5c" stroke="#101010" stroke-width="0.55"/><path d="M189.4 336.8L193.8 336.8L193.9 340.9A2.2 1.1 0 0 1 189.5 340.9Z" fill="#8a2c5c" stroke="#101010" stroke-width="0.65"/><path d="M192.2 336.8L193.4 336.8L193.5 340.9L192.3 340.9Z" fill="#501430" opacity="0.6"/><ellipse cx="191.6" cy="336.8" rx="2.2" ry="1.1" fill="#8a2c5c" stroke="#101010" stroke-width="0.55"/><path d="M199.7 319.8L204.6 319.8L204.8 342.2A2.5 1.3 0 0 1 199.9 342.2Z" fill="#8a2c5c" stroke="#101010" stroke-width="0.65"/><path d="M202.8 319.8L204.2 319.8L204.4 342.2L203.1 342.2Z" fill="#501430" opacity="0.6"/><ellipse cx="202.1" cy="319.8" rx="2.5" ry="1.3" fill="#8a2c5c" stroke="#101010" stroke-width="0.55"/><path d="M232.3 331L236.7 331L236.8 346.3A2.2 1.1 0 0 1 232.4 346.3Z" fill="#8a2c5c" stroke="#101010" stroke-width="0.65"/><path d="M235.1 331L236.3 331L236.4 346.3L235.2 346.3Z" fill="#501430" opacity="0.6"/><ellipse cx="234.5" cy="331" rx="2.2" ry="1.1" fill="#8a2c5c" stroke="#101010" stroke-width="0.55"/><path d="M240.4 337.6L245.6 337.6L245.6 347.3A2.6 1.4 0 0 1 240.4 347.3Z" fill="#8a2c5c" stroke="#101010" stroke-width="0.65"/><path d="M243.7 337.6L245.2 337.6L245.2 347.3L243.8 347.3Z" fill="#501430" opacity="0.6"/><ellipse cx="243" cy="337.6" rx="2.6" ry="1.4" fill="#8a2c5c" stroke="#101010" stroke-width="0.55"/><path d="M249.2 330.2L253.7 330.2L253.7 348.4A2.2 1.2 0 0 1 249.2 348.4Z" fill="#8a2c5c" stroke="#101010" stroke-width="0.65"/><path d="M252.1 330.2L253.3 330.2L253.3 348.4L252.1 348.4Z" fill="#501430" opacity="0.6"/><ellipse cx="251.4" cy="330.2" rx="2.2" ry="1.2" fill="#8a2c5c" stroke="#101010" stroke-width="0.55"/><path d="M267.7 330.9L272 330.9L272 350.7A2.2 1.1 0 0 1 267.7 350.7Z" fill="#8a2c5c" stroke="#101010" stroke-width="0.65"/><path d="M270.5 330.9L271.6 330.9L271.6 350.7L270.4 350.7Z" fill="#501430" opacity="0.6"/><ellipse cx="269.9" cy="330.9" rx="2.2" ry="1.1" fill="#8a2c5c" stroke="#101010" stroke-width="0.55"/><path d="M300.8 352.9L305.2 352.9L305.2 354.8A2.2 1.1 0 0 1 300.8 354.8Z" fill="#8a2c5c" stroke="#101010" stroke-width="0.65"/><path d="M303.6 352.9L304.8 352.9L304.8 354.8L303.6 354.8Z" fill="#501430" opacity="0.6"/><ellipse cx="303" cy="352.9" rx="2.2" ry="1.1" fill="#8a2c5c" stroke="#101010" stroke-width="0.55"/><path d="M338.2 352.3L342.3 352.3L342.2 359.4A2.1 1.1 0 0 1 338.1 359.4Z" fill="#8a2c5c" stroke="#101010" stroke-width="0.65"/><path d="M340.8 352.3L341.9 352.3L341.8 359.4L340.7 359.4Z" fill="#501430" opacity="0.6"/><ellipse cx="340.2" cy="352.3" rx="2.1" ry="1.1" fill="#8a2c5c" stroke="#101010" stroke-width="0.55"/><path d="M346.2 344.6L350.8 344.6L350.6 360.4A2.3 1.2 0 0 1 346 360.4Z" fill="#8a2c5c" stroke="#101010" stroke-width="0.65"/><path d="M349.1 344.6L350.4 344.6L350.2 360.4L348.9 360.4Z" fill="#501430" opacity="0.6"/><ellipse cx="348.5" cy="344.6" rx="2.3" ry="1.2" fill="#8a2c5c" stroke="#101010" stroke-width="0.55"/><path d="M363.6 359.4L368 359.4L367.9 362.6A2.2 1.1 0 0 1 363.5 362.6Z" fill="#8a2c5c" stroke="#101010" stroke-width="0.65"/><path d="M366.4 359.4L367.6 359.4L367.5 362.6L366.3 362.6Z" fill="#501430" opacity="0.6"/><ellipse cx="365.8" cy="359.4" rx="2.2" ry="1.1" fill="#8a2c5c" stroke="#101010" stroke-width="0.55"/><path d="M375.4 342.3L379.2 342.3L378.8 364A1.9 1 0 0 1 375 364Z" fill="#8a2c5c" stroke="#101010" stroke-width="0.65"/><path d="M377.8 342.3L378.8 342.3L378.4 364L377.4 364Z" fill="#501430" opacity="0.6"/><ellipse cx="377.3" cy="342.3" rx="1.9" ry="1" fill="#8a2c5c" stroke="#101010" stroke-width="0.55"/><path d="M384.5 335L388 335L387.3 365.1A1.8 0.9 0 0 1 383.8 365.1Z" fill="#8a2c5c" stroke="#101010" stroke-width="0.65"/><path d="M386.7 335L387.6 335L386.9 365.1L386.1 365.1Z" fill="#501430" opacity="0.6"/><ellipse cx="386.2" cy="335" rx="1.8" ry="0.9" fill="#8a2c5c" stroke="#101010" stroke-width="0.55"/><path d="M394 329L397.5 329L396.6 366.2A1.8 0.9 0 0 1 393.1 366.2Z" fill="#8a2c5c" stroke="#101010" stroke-width="0.65"/><path d="M396.2 329L397.1 329L396.2 366.2L395.4 366.2Z" fill="#501430" opacity="0.6"/><ellipse cx="395.8" cy="329" rx="1.8" ry="0.9" fill="#8a2c5c" stroke="#101010" stroke-width="0.55"/><path d="M397.2 358.6L401.4 358.6L401.2 366.8A2.1 1.1 0 0 1 397 366.8Z" fill="#8a2c5c" stroke="#101010" stroke-width="0.65"/><path d="M399.9 358.6L401 358.6L400.8 366.8L399.7 366.8Z" fill="#501430" opacity="0.6"/><ellipse cx="399.3" cy="358.6" rx="2.1" ry="1.1" fill="#8a2c5c" stroke="#101010" stroke-width="0.55"/><path d="M405.6 358.6L410.8 358.6L410.6 367.9A2.6 1.4 0 0 1 405.4 367.9Z" fill="#8a2c5c" stroke="#101010" stroke-width="0.65"/><path d="M408.9 358.6L410.4 358.6L410.2 367.9L408.7 367.9Z" fill="#501430" opacity="0.6"/><ellipse cx="408.2" cy="358.6" rx="2.6" ry="1.4" fill="#8a2c5c" stroke="#101010" stroke-width="0.55"/><path d="M435.2 350.4L440 350.4L439.4 371.5A2.4 1.2 0 0 1 434.6 371.5Z" fill="#8a2c5c" stroke="#101010" stroke-width="0.65"/><path d="M438.3 350.4L439.6 350.4L439 371.5L437.6 371.5Z" fill="#501430" opacity="0.6"/><ellipse cx="437.6" cy="350.4" rx="2.4" ry="1.2" fill="#8a2c5c" stroke="#101010" stroke-width="0.55"/><path d="M465.9 346L470.6 346L469.5 375.3A2.4 1.2 0 0 1 464.8 375.3Z" fill="#8a2c5c" stroke="#101010" stroke-width="0.65"/><path d="M468.9 346L470.2 346L469.1 375.3L467.9 375.3Z" fill="#501430" opacity="0.6"/><ellipse cx="468.2" cy="346" rx="2.4" ry="1.2" fill="#8a2c5c" stroke="#101010" stroke-width="0.55"/><path d="M48.3 319.3L51.6 319.3L51.9 326.7A1.7 0.9 0 0 1 48.6 326.7Z" fill="#9a98fa" stroke="#101010" stroke-width="0.65"/><path d="M50.4 319.3L51.2 319.3L51.5 326.7L50.7 326.7Z" fill="#5e5cb8" opacity="0.6"/><ellipse cx="50" cy="319.3" rx="1.7" ry="0.9" fill="#9a98fa" stroke="#101010" stroke-width="0.55"/><path d="M56 307.7L60.5 307.7L61.2 327.8A2.2 1.2 0 0 1 56.7 327.8Z" fill="#9a98fa" stroke="#101010" stroke-width="0.65"/><path d="M58.9 307.7L60.1 307.7L60.8 327.8L59.6 327.8Z" fill="#5e5cb8" opacity="0.6"/><ellipse cx="58.2" cy="307.7" rx="2.2" ry="1.2" fill="#9a98fa" stroke="#101010" stroke-width="0.55"/><path d="M65 323.7L68.2 323.7L68.4 328.8A1.6 0.8 0 0 1 65.2 328.8Z" fill="#9a98fa" stroke="#101010" stroke-width="0.65"/><path d="M67 323.7L67.8 323.7L68 328.8L67.2 328.8Z" fill="#5e5cb8" opacity="0.6"/><ellipse cx="66.6" cy="323.7" rx="1.6" ry="0.8" fill="#9a98fa" stroke="#101010" stroke-width="0.55"/><path d="M72.6 305L76 305L76.8 329.8A1.7 0.9 0 0 1 73.4 329.8Z" fill="#9a98fa" stroke="#101010" stroke-width="0.65"/><path d="M74.8 305L75.6 305L76.4 329.8L75.6 329.8Z" fill="#5e5cb8" opacity="0.6"/><ellipse cx="74.3" cy="305" rx="1.7" ry="0.9" fill="#9a98fa" stroke="#101010" stroke-width="0.55"/><path d="M80.4 312L84.2 312L84.8 330.8A1.9 1 0 0 1 81 330.8Z" fill="#9a98fa" stroke="#101010" stroke-width="0.65"/><path d="M82.8 312L83.8 312L84.4 330.8L83.4 330.8Z" fill="#5e5cb8" opacity="0.6"/><ellipse cx="82.3" cy="312" rx="1.9" ry="1" fill="#9a98fa" stroke="#101010" stroke-width="0.55"/><path d="M88 293.4L92.9 293.4L94 331.9A2.5 1.3 0 0 1 89.1 331.9Z" fill="#9a98fa" stroke="#101010" stroke-width="0.65"/><path d="M91.1 293.4L92.5 293.4L93.6 331.9L92.3 331.9Z" fill="#5e5cb8" opacity="0.6"/><ellipse cx="90.5" cy="293.4" rx="2.5" ry="1.3" fill="#9a98fa" stroke="#101010" stroke-width="0.55"/><path d="M104.6 324.7L109 324.7L109.2 333.9A2.2 1.1 0 0 1 104.8 333.9Z" fill="#9a98fa" stroke="#101010" stroke-width="0.65"/><path d="M107.4 324.7L108.6 324.7L108.8 333.9L107.7 333.9Z" fill="#5e5cb8" opacity="0.6"/><ellipse cx="106.8" cy="324.7" rx="2.2" ry="1.1" fill="#9a98fa" stroke="#101010" stroke-width="0.55"/><path d="M112.7 328.3L116.4 328.3L116.6 334.8A1.9 1 0 0 1 112.9 334.8Z" fill="#9a98fa" stroke="#101010" stroke-width="0.65"/><path d="M115.1 328.3L116 328.3L116.2 334.8L115.2 334.8Z" fill="#5e5cb8" opacity="0.6"/><ellipse cx="114.6" cy="328.3" rx="1.9" ry="1" fill="#9a98fa" stroke="#101010" stroke-width="0.55"/><path d="M120.8 325.4L125.2 325.4L125.4 335.9A2.2 1.1 0 0 1 121 335.9Z" fill="#9a98fa" stroke="#101010" stroke-width="0.65"/><path d="M123.6 325.4L124.8 325.4L125 335.9L123.9 335.9Z" fill="#5e5cb8" opacity="0.6"/><ellipse cx="123" cy="325.4" rx="2.2" ry="1.1" fill="#9a98fa" stroke="#101010" stroke-width="0.55"/><path d="M136.2 334.3L140.6 334.3L140.7 337.8A2.2 1.2 0 0 1 136.2 337.8Z" fill="#9a98fa" stroke="#101010" stroke-width="0.65"/><path d="M139 334.3L140.2 334.3L140.3 337.8L139.1 337.8Z" fill="#5e5cb8" opacity="0.6"/><ellipse cx="138.4" cy="334.3" rx="2.2" ry="1.2" fill="#9a98fa" stroke="#101010" stroke-width="0.55"/><path d="M145.9 327.6L149.6 327.6L149.8 339A1.8 1 0 0 1 146.1 339Z" fill="#9a98fa" stroke="#101010" stroke-width="0.65"/><path d="M148.3 327.6L149.2 327.6L149.4 339L148.5 339Z" fill="#5e5cb8" opacity="0.6"/><ellipse cx="147.8" cy="327.6" rx="1.8" ry="1" fill="#9a98fa" stroke="#101010" stroke-width="0.55"/><path d="M153.7 336.1L156.6 336.1L156.7 339.9A1.5 0.8 0 0 1 153.8 339.9Z" fill="#9a98fa" stroke="#101010" stroke-width="0.65"/><path d="M155.6 336.1L156.2 336.1L156.3 339.9L155.6 339.9Z" fill="#5e5cb8" opacity="0.6"/><ellipse cx="155.1" cy="336.1" rx="1.5" ry="0.8" fill="#9a98fa" stroke="#101010" stroke-width="0.55"/><path d="M160.7 337.8L165.2 337.8L165.2 340.9A2.2 1.2 0 0 1 160.8 340.9Z" fill="#9a98fa" stroke="#101010" stroke-width="0.65"/><path d="M163.6 337.8L164.8 337.8L164.8 340.9L163.6 340.9Z" fill="#5e5cb8" opacity="0.6"/><ellipse cx="163" cy="337.8" rx="2.2" ry="1.2" fill="#9a98fa" stroke="#101010" stroke-width="0.55"/><path d="M177.3 339.9L181.7 339.9L181.8 343A2.2 1.2 0 0 1 177.3 343Z" fill="#9a98fa" stroke="#101010" stroke-width="0.65"/><path d="M180.1 339.9L181.3 339.9L181.4 343L180.2 343Z" fill="#5e5cb8" opacity="0.6"/><ellipse cx="179.5" cy="339.9" rx="2.2" ry="1.2" fill="#9a98fa" stroke="#101010" stroke-width="0.55"/><path d="M185.6 341.2L190.1 341.2L190.1 344A2.2 1.2 0 0 1 185.7 344Z" fill="#9a98fa" stroke="#101010" stroke-width="0.65"/><path d="M188.5 341.2L189.7 341.2L189.7 344L188.5 344Z" fill="#5e5cb8" opacity="0.6"/><ellipse cx="187.9" cy="341.2" rx="2.2" ry="1.2" fill="#9a98fa" stroke="#101010" stroke-width="0.55"/><path d="M195.8 317.9L199.7 317.9L200 345.3A1.9 1 0 0 1 196.1 345.3Z" fill="#9a98fa" stroke="#101010" stroke-width="0.65"/><path d="M198.3 317.9L199.3 317.9L199.6 345.3L198.6 345.3Z" fill="#5e5cb8" opacity="0.6"/><ellipse cx="197.8" cy="317.9" rx="1.9" ry="1" fill="#9a98fa" stroke="#101010" stroke-width="0.55"/><path d="M203.8 339L207.5 339L207.6 346.3A1.8 1 0 0 1 203.9 346.3Z" fill="#9a98fa" stroke="#101010" stroke-width="0.65"/><path d="M206.2 339L207.1 339L207.2 346.3L206.2 346.3Z" fill="#5e5cb8" opacity="0.6"/><ellipse cx="205.7" cy="339" rx="1.8" ry="1" fill="#9a98fa" stroke="#101010" stroke-width="0.55"/><path d="M210.9 345.4L215.3 345.4L215.3 347.2A2.2 1.2 0 0 1 210.9 347.2Z" fill="#9a98fa" stroke="#101010" stroke-width="0.65"/><path d="M213.7 345.4L214.9 345.4L214.9 347.2L213.7 347.2Z" fill="#5e5cb8" opacity="0.6"/><ellipse cx="213.1" cy="345.4" rx="2.2" ry="1.2" fill="#9a98fa" stroke="#101010" stroke-width="0.55"/><path d="M220.5 333.2L224.2 333.2L224.3 348.4A1.8 1 0 0 1 220.6 348.4Z" fill="#9a98fa" stroke="#101010" stroke-width="0.65"/><path d="M222.9 333.2L223.8 333.2L223.9 348.4L223 348.4Z" fill="#5e5cb8" opacity="0.6"/><ellipse cx="222.3" cy="333.2" rx="1.8" ry="1" fill="#9a98fa" stroke="#101010" stroke-width="0.55"/><path d="M238.2 345L241.1 345L241.1 350.5A1.5 0.8 0 0 1 238.2 350.5Z" fill="#9a98fa" stroke="#101010" stroke-width="0.65"/><path d="M240.1 345L240.7 345L240.7 350.5L240.1 350.5Z" fill="#5e5cb8" opacity="0.6"/><ellipse cx="239.6" cy="345" rx="1.5" ry="0.8" fill="#9a98fa" stroke="#101010" stroke-width="0.55"/><path d="M246.3 333.2L250 333.2L250 351.6A1.8 1 0 0 1 246.3 351.6Z" fill="#9a98fa" stroke="#101010" stroke-width="0.65"/><path d="M248.7 333.2L249.6 333.2L249.6 351.6L248.7 351.6Z" fill="#5e5cb8" opacity="0.6"/><ellipse cx="248.2" cy="333.2" rx="1.8" ry="1" fill="#9a98fa" stroke="#101010" stroke-width="0.55"/><path d="M255.1 310.3L258.8 310.3L258.8 352.7A1.9 1 0 0 1 255.1 352.7Z" fill="#9a98fa" stroke="#101010" stroke-width="0.65"/><path d="M257.5 310.3L258.4 310.3L258.4 352.7L257.5 352.7Z" fill="#5e5cb8" opacity="0.6"/><ellipse cx="256.9" cy="310.3" rx="1.9" ry="1" fill="#9a98fa" stroke="#101010" stroke-width="0.55"/><path d="M272.9 350.7L276.3 350.7L276.3 354.9A1.7 0.9 0 0 1 272.9 354.9Z" fill="#9a98fa" stroke="#101010" stroke-width="0.65"/><path d="M275.1 350.7L275.9 350.7L275.9 354.9L275.1 354.9Z" fill="#5e5cb8" opacity="0.6"/><ellipse cx="274.6" cy="350.7" rx="1.7" ry="0.9" fill="#9a98fa" stroke="#101010" stroke-width="0.55"/><path d="M280.6 344.7L284.9 344.7L284.9 355.9A2.1 1.1 0 0 1 280.6 355.9Z" fill="#9a98fa" stroke="#101010" stroke-width="0.65"/><path d="M283.4 344.7L284.5 344.7L284.5 355.9L283.3 355.9Z" fill="#5e5cb8" opacity="0.6"/><ellipse cx="282.8" cy="344.7" rx="2.1" ry="1.1" fill="#9a98fa" stroke="#101010" stroke-width="0.55"/><path d="M306.4 357L310.9 357L310.9 359.2A2.2 1.2 0 0 1 306.4 359.2Z" fill="#9a98fa" stroke="#101010" stroke-width="0.65"/><path d="M309.3 357L310.5 357L310.5 359.2L309.3 359.2Z" fill="#5e5cb8" opacity="0.6"/><ellipse cx="308.7" cy="357" rx="2.2" ry="1.2" fill="#9a98fa" stroke="#101010" stroke-width="0.55"/><path d="M325.4 351.5L330 351.5L329.9 361.6A2.3 1.2 0 0 1 325.3 361.6Z" fill="#9a98fa" stroke="#101010" stroke-width="0.65"/><path d="M328.3 351.5L329.6 351.5L329.5 361.6L328.2 361.6Z" fill="#5e5cb8" opacity="0.6"/><ellipse cx="327.7" cy="351.5" rx="2.3" ry="1.2" fill="#9a98fa" stroke="#101010" stroke-width="0.55"/><path d="M334.6 358.5L338.5 358.5L338.4 362.7A1.9 1 0 0 1 334.5 362.7Z" fill="#9a98fa" stroke="#101010" stroke-width="0.65"/><path d="M337.1 358.5L338.1 358.5L338 362.7L337 362.7Z" fill="#5e5cb8" opacity="0.6"/><ellipse cx="336.6" cy="358.5" rx="1.9" ry="1" fill="#9a98fa" stroke="#101010" stroke-width="0.55"/><path d="M343 360L347 360L346.9 363.7A2 1 0 0 1 342.9 363.7Z" fill="#9a98fa" stroke="#101010" stroke-width="0.65"/><path d="M345.6 360L346.6 360L346.5 363.7L345.5 363.7Z" fill="#5e5cb8" opacity="0.6"/><ellipse cx="345" cy="360" rx="2" ry="1" fill="#9a98fa" stroke="#101010" stroke-width="0.55"/><path d="M352.3 333.8L357 333.8L356.5 364.9A2.3 1.2 0 0 1 351.8 364.9Z" fill="#9a98fa" stroke="#101010" stroke-width="0.65"/><path d="M355.3 333.8L356.6 333.8L356.1 364.9L354.8 364.9Z" fill="#5e5cb8" opacity="0.6"/><ellipse cx="354.6" cy="333.8" rx="2.3" ry="1.2" fill="#9a98fa" stroke="#101010" stroke-width="0.55"/><path d="M370.8 340.8L375.4 340.8L374.9 367.2A2.3 1.2 0 0 1 370.3 367.2Z" fill="#9a98fa" stroke="#101010" stroke-width="0.65"/><path d="M373.7 340.8L375 340.8L374.5 367.2L373.2 367.2Z" fill="#5e5cb8" opacity="0.6"/><ellipse cx="373.1" cy="340.8" rx="2.3" ry="1.2" fill="#9a98fa" stroke="#101010" stroke-width="0.55"/><path d="M380 330.4L384.6 330.4L383.8 368.3A2.3 1.2 0 0 1 379.2 368.3Z" fill="#9a98fa" stroke="#101010" stroke-width="0.65"/><path d="M382.9 330.4L384.2 330.4L383.4 368.3L382.1 368.3Z" fill="#5e5cb8" opacity="0.6"/><ellipse cx="382.3" cy="330.4" rx="2.3" ry="1.2" fill="#9a98fa" stroke="#101010" stroke-width="0.55"/><path d="M390.3 274.7L395.6 274.7L393.5 369.5A2.7 1.4 0 0 1 388.2 369.5Z" fill="#9a98fa" stroke="#101010" stroke-width="0.65"/><path d="M393.7 274.7L395.2 274.7L393.1 369.5L391.5 369.5Z" fill="#5e5cb8" opacity="0.6"/><ellipse cx="393" cy="274.7" rx="2.7" ry="1.4" fill="#9a98fa" stroke="#101010" stroke-width="0.55"/><path d="M399.3 367L402.4 367L402.3 370.8A1.5 0.8 0 0 1 399.2 370.8Z" fill="#9a98fa" stroke="#101010" stroke-width="0.65"/><path d="M401.3 367L402 367L401.9 370.8L401.2 370.8Z" fill="#5e5cb8" opacity="0.6"/><ellipse cx="400.9" cy="367" rx="1.5" ry="0.8" fill="#9a98fa" stroke="#101010" stroke-width="0.55"/><path d="M407.7 369L411.8 369L411.7 371.9A2.1 1.1 0 0 1 407.6 371.9Z" fill="#9a98fa" stroke="#101010" stroke-width="0.65"/><path d="M410.3 369L411.4 369L411.3 371.9L410.2 371.9Z" fill="#5e5cb8" opacity="0.6"/><ellipse cx="409.8" cy="369" rx="2.1" ry="1.1" fill="#9a98fa" stroke="#101010" stroke-width="0.55"/><path d="M417 362.8L421.3 362.8L421 373A2.2 1.1 0 0 1 416.7 373Z" fill="#9a98fa" stroke="#101010" stroke-width="0.65"/><path d="M419.8 362.8L420.9 362.8L420.6 373L419.5 373Z" fill="#5e5cb8" opacity="0.6"/><ellipse cx="419.1" cy="362.8" rx="2.2" ry="1.1" fill="#9a98fa" stroke="#101010" stroke-width="0.55"/><path d="M427.3 356.6L432 356.6L431.5 374.3A2.3 1.2 0 0 1 426.8 374.3Z" fill="#9a98fa" stroke="#101010" stroke-width="0.65"/><path d="M430.3 356.6L431.6 356.6L431.1 374.3L429.8 374.3Z" fill="#5e5cb8" opacity="0.6"/><ellipse cx="429.6" cy="356.6" rx="2.3" ry="1.2" fill="#9a98fa" stroke="#101010" stroke-width="0.55"/><path d="M436.7 357.8L440.2 357.8L439.7 375.4A1.8 0.9 0 0 1 436.2 375.4Z" fill="#9a98fa" stroke="#101010" stroke-width="0.65"/><path d="M438.9 357.8L439.8 357.8L439.3 375.4L438.4 375.4Z" fill="#5e5cb8" opacity="0.6"/><ellipse cx="438.4" cy="357.8" rx="1.8" ry="0.9" fill="#9a98fa" stroke="#101010" stroke-width="0.55"/><path d="M446 327.4L450.7 327.4L449.1 376.5A2.3 1.2 0 0 1 444.4 376.5Z" fill="#9a98fa" stroke="#101010" stroke-width="0.65"/><path d="M449 327.4L450.3 327.4L448.7 376.5L447.4 376.5Z" fill="#5e5cb8" opacity="0.6"/><ellipse cx="448.4" cy="327.4" rx="2.3" ry="1.2" fill="#9a98fa" stroke="#101010" stroke-width="0.55"/><path d="M457 289.5L462 289.5L459 377.8A2.5 1.3 0 0 1 454 377.8Z" fill="#9a98fa" stroke="#101010" stroke-width="0.65"/><path d="M460.2 289.5L461.6 289.5L458.6 377.8L457.2 377.8Z" fill="#5e5cb8" opacity="0.6"/><ellipse cx="459.5" cy="289.5" rx="2.5" ry="1.3" fill="#9a98fa" stroke="#101010" stroke-width="0.55"/>
<line x1="45" y1="327.8" x2="460.5" y2="380.2" stroke="#333" stroke-width="0.9"/><line x1="460.5" y1="380.2" x2="490.5" y2="334" stroke="#333" stroke-width="0.9"/><path d="M45 327.8v5.2M52.8 328.8v5.2M60.6 329.8v5.2M68.4 330.7v5.2M76.3 331.7v5.2M84.2 332.7v5.2M92.1 333.7v5.2M100.1 334.7v5.2M108.1 335.8v5.2M116.1 336.8v5.2M124.2 337.8v5.2M132.3 338.8v5.2M140.5 339.8v5.2M148.6 340.9v5.2M156.9 341.9v5.2M165.1 342.9v5.2M173.4 344v5.2M181.8 345v5.2M190.1 346.1v5.2M198.6 347.2v5.2M207 348.2v5.2M215.5 349.3v5.2M224 350.4v5.2M232.6 351.5v5.2M241.2 352.5v5.2M249.9 353.6v5.2M258.6 354.7v5.2M267.3 355.8v5.2M276.1 356.9v5.2M284.9 358v5.2M293.7 359.2v5.2M302.6 360.3v5.2M311.5 361.4v5.2M320.5 362.5v5.2M329.6 363.7v5.2M338.6 364.8v5.2M347.7 366v5.2M356.9 367.1v5.2M366.1 368.3v5.2M375.3 369.5v5.2M384.6 370.6v5.2M393.9 371.8v5.2M403.3 373v5.2M412.7 374.2v5.2M422.2 375.4v5.2M431.7 376.6v5.2M441.2 377.8v5.2M450.8 379v5.2M460.5 380.2v5.2M460.5 380.2h5M462.8 376.6h5M465.1 373.1h5M467.4 369.6h5M469.6 366.2h5M471.8 362.8h5M474 359.4h5M476.1 356.1h5M478.3 352.8h5M480.4 349.6h5M482.4 346.4h5M484.5 343.2h5M486.5 340.1h5M488.5 337h5M490.5 334h5" stroke="#333" stroke-width="0.8" fill="none"/><text transform="translate(51.3,335.3) rotate(-90)" font-size="5.6" font-weight="bold" text-anchor="end" fill="#000" textLength="14.2" lengthAdjust="spacingAndGlyphs">TRBV2</text><text transform="translate(66.9,337.3) rotate(-90)" font-size="5.6" font-weight="bold" text-anchor="end" fill="#000" textLength="18" lengthAdjust="spacingAndGlyphs">TRBV4-1</text><text transform="translate(82.6,339.2) rotate(-90)" font-size="5.6" font-weight="bold" text-anchor="end" fill="#000" textLength="18" lengthAdjust="spacingAndGlyphs">TRBV4-3</text><text transform="translate(98.5,341.2) rotate(-90)" font-size="5.6" font-weight="bold" text-anchor="end" fill="#000" textLength="18" lengthAdjust="spacingAndGlyphs">TRBV5-3</text><text transform="translate(114.5,343.3) rotate(-90)" font-size="5.6" font-weight="bold" text-anchor="end" fill="#000" textLength="18" lengthAdjust="spacingAndGlyphs">TRBV5-5</text><text transform="translate(130.6,345.3) rotate(-90)" font-size="5.6" font-weight="bold" text-anchor="end" fill="#000" textLength="18" lengthAdjust="spacingAndGlyphs">TRBV5-7</text><text transform="translate(146.9,347.4) rotate(-90)" font-size="5.6" font-weight="bold" text-anchor="end" fill="#000" textLength="18" lengthAdjust="spacingAndGlyphs">TRBV6-1</text><text transform="translate(163.4,349.4) rotate(-90)" font-size="5.6" font-weight="bold" text-anchor="end" fill="#000" textLength="18" lengthAdjust="spacingAndGlyphs">TRBV6-7</text><text transform="translate(180,351.5) rotate(-90)" font-size="5.6" font-weight="bold" text-anchor="end" fill="#000" textLength="18" lengthAdjust="spacingAndGlyphs">TRBV6-9</text><text transform="translate(196.7,353.6) rotate(-90)" font-size="5.6" font-weight="bold" text-anchor="end" fill="#000" textLength="18" lengthAdjust="spacingAndGlyphs">TRBV7-2</text><text transform="translate(213.7,355.8) rotate(-90)" font-size="5.6" font-weight="bold" text-anchor="end" fill="#000" textLength="18" lengthAdjust="spacingAndGlyphs">TRBV7-4</text><text transform="translate(230.7,357.9) rotate(-90)" font-size="5.6" font-weight="bold" text-anchor="end" fill="#000" textLength="18" lengthAdjust="spacingAndGlyphs">TRBV7-7</text><text transform="translate(247.9,360.1) rotate(-90)" font-size="5.6" font-weight="bold" text-anchor="end" fill="#000" textLength="18" lengthAdjust="spacingAndGlyphs">TRBV7-9</text><text transform="translate(265.3,362.3) rotate(-90)" font-size="5.6" font-weight="bold" text-anchor="end" fill="#000" textLength="20.5" lengthAdjust="spacingAndGlyphs">TRBV10-1</text><text transform="translate(282.9,364.5) rotate(-90)" font-size="5.6" font-weight="bold" text-anchor="end" fill="#000" textLength="20.5" lengthAdjust="spacingAndGlyphs">TRBV10-3</text><text transform="translate(300.6,366.7) rotate(-90)" font-size="5.6" font-weight="bold" text-anchor="end" fill="#000" textLength="20.2" lengthAdjust="spacingAndGlyphs">TRBV11-2</text><text transform="translate(318.4,369) rotate(-90)" font-size="5.6" font-weight="bold" text-anchor="end" fill="#000" textLength="20.5" lengthAdjust="spacingAndGlyphs">TRBV12-5</text><text transform="translate(336.5,371.3) rotate(-90)" font-size="5.6" font-weight="bold" text-anchor="end" fill="#000" textLength="16.6" lengthAdjust="spacingAndGlyphs">TRBV14</text><text transform="translate(354.7,373.6) rotate(-90)" font-size="5.6" font-weight="bold" text-anchor="end" fill="#000" textLength="16.6" lengthAdjust="spacingAndGlyphs">TRBV16</text><text transform="translate(373.1,375.9) rotate(-90)" font-size="5.6" font-weight="bold" text-anchor="end" fill="#000" textLength="16.6" lengthAdjust="spacingAndGlyphs">TRBV19</text><text transform="translate(391.7,378.2) rotate(-90)" font-size="5.6" font-weight="bold" text-anchor="end" fill="#000" textLength="20.5" lengthAdjust="spacingAndGlyphs">TRBV20-1</text><text transform="translate(410.4,380.6) rotate(-90)" font-size="5.6" font-weight="bold" text-anchor="end" fill="#000" textLength="20.5" lengthAdjust="spacingAndGlyphs">TRBV24-1</text><text transform="translate(429.3,383) rotate(-90)" font-size="5.6" font-weight="bold" text-anchor="end" fill="#000" textLength="16.6" lengthAdjust="spacingAndGlyphs">TRBV27</text><text transform="translate(448.4,385.4) rotate(-90)" font-size="5.6" font-weight="bold" text-anchor="end" fill="#000" textLength="20.5" lengthAdjust="spacingAndGlyphs">TRBV29-1</text><text x="470.6" y="380.9" font-size="5.2" font-weight="bold" fill="#000" textLength="16.1" lengthAdjust="spacingAndGlyphs">TRBJ1-1</text><text x="474.6" y="374.7" font-size="5.2" font-weight="bold" fill="#000" textLength="16.1" lengthAdjust="spacingAndGlyphs">TRBJ1-3</text><text x="478.6" y="368.4" font-size="5.2" font-weight="bold" fill="#000" textLength="16.1" lengthAdjust="spacingAndGlyphs">TRBJ1-5</text><text x="482.6" y="362.2" font-size="5.2" font-weight="bold" fill="#000" textLength="16.1" lengthAdjust="spacingAndGlyphs">TRBJ2-1</text><text x="486.6" y="355.9" font-size="5.2" font-weight="bold" fill="#000" textLength="16.1" lengthAdjust="spacingAndGlyphs">TRBJ2-3</text><text x="490.6" y="349.7" font-size="5.2" font-weight="bold" fill="#000" textLength="16.1" lengthAdjust="spacingAndGlyphs">TRBJ2-5</text><text x="494.6" y="343.4" font-size="5.2" font-weight="bold" fill="#000" textLength="16.1" lengthAdjust="spacingAndGlyphs">TRBJ2-7</text><text x="498.6" y="337.2" font-size="5.2" font-weight="bold" fill="#000" textLength="21" lengthAdjust="spacingAndGlyphs">TRBJ2-7P2</text><text transform="translate(188.6,383.5) rotate(5.9)" font-size="12.2" fill="#000" stroke="#000" stroke-width="0.2" textLength="67.5" lengthAdjust="spacingAndGlyphs">TRBV Families</text><text transform="translate(483,401) rotate(-53.7)" font-size="12.4" fill="#000" stroke="#000" stroke-width="0.25" textLength="71" lengthAdjust="spacingAndGlyphs">TRBJ Families</text>
<rect x="41.2" y="21.2" width="72.2" height="10.3" fill="#000"/><rect x="41.2" y="31.5" width="72.2" height="19.9" fill="#4470f4"/><rect x="41.2" y="51.4" width="72.2" height="151.9" fill="#a8d0f8"/><text x="43.4" y="30.5" font-size="9.3" font-weight="bold" fill="#fff" stroke="#fff" stroke-width="0.25" textLength="57.8" lengthAdjust="spacingAndGlyphs">TRBV5-1 TRBJ2-1</text><text x="43.4" y="40.3" font-size="8.4" font-weight="bold" fill="#d8e4ff" textLength="53" lengthAdjust="spacingAndGlyphs">Unique seqs: 482</text><text x="43.4" y="49.3" font-size="8.4" font-weight="bold" fill="#d8e4ff" textLength="52.2" lengthAdjust="spacingAndGlyphs">Total reads: 3434</text><text x="43.4" y="58.7" font-size="8.6" font-weight="bold" fill="#0c1838" stroke="#0c1838" stroke-width="0.3" textLength="44.3" lengthAdjust="spacingAndGlyphs">CASSLGLYNE</text><text x="43.4" y="68.7" font-size="8.6" font-weight="bold" fill="#0c1838" stroke="#0c1838" stroke-width="0.3" textLength="35.2" lengthAdjust="spacingAndGlyphs">CASSLVRV</text><text x="43.4" y="78.6" font-size="8.6" font-weight="bold" fill="#0c1838" stroke="#0c1838" stroke-width="0.3" textLength="50.4" lengthAdjust="spacingAndGlyphs">CASSSRTGDNE</text><text x="43.4" y="88.6" font-size="8.6" font-weight="bold" fill="#0c1838" stroke="#0c1838" stroke-width="0.3" textLength="54.2" lengthAdjust="spacingAndGlyphs">CASSLGPGSAYE</text><text x="43.4" y="98.5" font-size="8.6" font-weight="bold" fill="#0c1838" stroke="#0c1838" stroke-width="0.3" textLength="44.9" lengthAdjust="spacingAndGlyphs">CASSLNTQVE</text><text x="43.4" y="108.5" font-size="8.6" font-weight="bold" fill="#0c1838" stroke="#0c1838" stroke-width="0.3" textLength="64.2" lengthAdjust="spacingAndGlyphs">CASSQGRGTTSYNE</text><text x="43.4" y="118.5" font-size="8.6" font-weight="bold" fill="#0c1838" stroke="#0c1838" stroke-width="0.3" textLength="62.8" lengthAdjust="spacingAndGlyphs">CASSQKARDRIDNE</text><text x="43.4" y="128.4" font-size="8.6" font-weight="bold" fill="#0c1838" stroke="#0c1838" stroke-width="0.3" textLength="66.1" lengthAdjust="spacingAndGlyphs">CASQTTGTGLAIGNE</text><text x="43.4" y="138.4" font-size="8.6" font-weight="bold" fill="#0c1838" stroke="#0c1838" stroke-width="0.3" textLength="67.2" lengthAdjust="spacingAndGlyphs">CASSFSSGVPSSYNE</text><text x="43.4" y="148.3" font-size="8.6" font-weight="bold" fill="#0c1838" stroke="#0c1838" stroke-width="0.3" textLength="64.2" lengthAdjust="spacingAndGlyphs">CASSLEARTWSYNE</text><text x="43.4" y="158.3" font-size="8.6" font-weight="bold" fill="#0c1838" stroke="#0c1838" stroke-width="0.3" textLength="53.3" lengthAdjust="spacingAndGlyphs">CASSLETGSVYE</text><text x="43.4" y="168.3" font-size="8.6" font-weight="bold" fill="#0c1838" stroke="#0c1838" stroke-width="0.3" textLength="50.7" lengthAdjust="spacingAndGlyphs">CASSSLSISYNE</text><text x="43.4" y="178.2" font-size="8.6" font-weight="bold" fill="#0c1838" stroke="#0c1838" stroke-width="0.3" textLength="54.2" lengthAdjust="spacingAndGlyphs">CASSKTSGAYNE</text><text x="43.4" y="188.2" font-size="8.6" font-weight="bold" fill="#0c1838" stroke="#0c1838" stroke-width="0.3" textLength="54.8" lengthAdjust="spacingAndGlyphs">CASSLAGGTYNE</text><text x="43.4" y="198.1" font-size="8.6" font-weight="bold" fill="#0c1838" stroke="#0c1838" stroke-width="0.3" textLength="40.5" lengthAdjust="spacingAndGlyphs">CASRTSYNE</text><rect x="146" y="2" width="64.2" height="8.6" fill="#000"/><rect x="146" y="10.6" width="64.2" height="19.2" fill="#7a087e"/><rect x="146" y="29.8" width="64.2" height="153" fill="#c49cf6"/><text x="148.2" y="9.6" font-size="9.3" font-weight="bold" fill="#fff" stroke="#fff" stroke-width="0.25" textLength="57.8" lengthAdjust="spacingAndGlyphs">TRBV7-2 TRBJ2-7</text><text x="148.2" y="19.4" font-size="8.4" font-weight="bold" fill="#f4d6f4" textLength="52.7" lengthAdjust="spacingAndGlyphs">Unique seqs: 611</text><text x="148.2" y="28.4" font-size="8.4" font-weight="bold" fill="#f4d6f4" textLength="52.2" lengthAdjust="spacingAndGlyphs">Total reads: 6625</text><text x="148.2" y="38.6" font-size="8.6" font-weight="bold" fill="#1e0c30" stroke="#1e0c30" stroke-width="0.3" textLength="50" lengthAdjust="spacingAndGlyphs">CASSLFSGGNE</text><text x="148.2" y="48.5" font-size="8.6" font-weight="bold" fill="#1e0c30" stroke="#1e0c30" stroke-width="0.3" textLength="50.7" lengthAdjust="spacingAndGlyphs">CASSLRSGGNE</text><text x="148.2" y="58.5" font-size="8.6" font-weight="bold" fill="#1e0c30" stroke="#1e0c30" stroke-width="0.3" textLength="46" lengthAdjust="spacingAndGlyphs">CASSLAQGYE</text><text x="148.2" y="68.4" font-size="8.6" font-weight="bold" fill="#1e0c30" stroke="#1e0c30" stroke-width="0.3" textLength="40.2" lengthAdjust="spacingAndGlyphs">CASSPSSYE</text><text x="148.2" y="78.4" font-size="8.6" font-weight="bold" fill="#1e0c30" stroke="#1e0c30" stroke-width="0.3" textLength="50.4" lengthAdjust="spacingAndGlyphs">CASSLGQGTYE</text><text x="148.2" y="88.3" font-size="8.6" font-weight="bold" fill="#1e0c30" stroke="#1e0c30" stroke-width="0.3" textLength="52.6" lengthAdjust="spacingAndGlyphs">CASSTDSPVAYE</text><text x="148.2" y="98.2" font-size="8.6" font-weight="bold" fill="#1e0c30" stroke="#1e0c30" stroke-width="0.3" textLength="49.5" lengthAdjust="spacingAndGlyphs">CASSLRARVYE</text><text x="148.2" y="108.2" font-size="8.6" font-weight="bold" fill="#1e0c30" stroke="#1e0c30" stroke-width="0.3" textLength="54.9" lengthAdjust="spacingAndGlyphs">CASSLVAGGGNE</text><text x="148.2" y="118.1" font-size="8.6" font-weight="bold" fill="#1e0c30" stroke="#1e0c30" stroke-width="0.3" textLength="44.8" lengthAdjust="spacingAndGlyphs">CASQLAATYE</text><text x="148.2" y="128.1" font-size="8.6" font-weight="bold" fill="#1e0c30" stroke="#1e0c30" stroke-width="0.3" textLength="55.1" lengthAdjust="spacingAndGlyphs">CASSPGLAGVDE</text><text x="148.2" y="138" font-size="8.6" font-weight="bold" fill="#1e0c30" stroke="#1e0c30" stroke-width="0.3" textLength="54.8" lengthAdjust="spacingAndGlyphs">CASSLGGGVTYE</text><text x="148.2" y="147.9" font-size="8.6" font-weight="bold" fill="#1e0c30" stroke="#1e0c30" stroke-width="0.3" textLength="59.9" lengthAdjust="spacingAndGlyphs">CASRLARQGPSYE</text><text x="148.2" y="157.9" font-size="8.6" font-weight="bold" fill="#1e0c30" stroke="#1e0c30" stroke-width="0.3" textLength="55.5" lengthAdjust="spacingAndGlyphs">CASSPKAGGSYE</text><text x="148.2" y="167.8" font-size="8.6" font-weight="bold" fill="#1e0c30" stroke="#1e0c30" stroke-width="0.3" textLength="54.8" lengthAdjust="spacingAndGlyphs">CASSPSGGVPYE</text><text x="148.2" y="177.8" font-size="8.6" font-weight="bold" fill="#1e0c30" stroke="#1e0c30" stroke-width="0.3" textLength="40.5" lengthAdjust="spacingAndGlyphs">CASSFGSSE</text><rect x="289.4" y="41.2" width="66" height="10.4" fill="#000"/><rect x="289.4" y="51.6" width="66" height="20.1" fill="#4470f4"/><rect x="289.4" y="71.7" width="66" height="151.6" fill="#a8d0f8"/><text x="291.6" y="50.6" font-size="9.3" font-weight="bold" fill="#fff" stroke="#fff" stroke-width="0.25" textLength="61.6" lengthAdjust="spacingAndGlyphs">TRBV20-1 TRBJ2-1</text><text x="291.6" y="60.4" font-size="8.4" font-weight="bold" fill="#d8e4ff" textLength="56.3" lengthAdjust="spacingAndGlyphs">Unique seqs: 1101</text><text x="291.6" y="69.4" font-size="8.4" font-weight="bold" fill="#d8e4ff" textLength="52.2" lengthAdjust="spacingAndGlyphs">Total reads: 8153</text><text x="291.6" y="79.3" font-size="8.6" font-weight="bold" fill="#0c1838" stroke="#0c1838" stroke-width="0.3" textLength="59.1" lengthAdjust="spacingAndGlyphs">CSARDPQRTPLNE</text><text x="291.6" y="89.3" font-size="8.6" font-weight="bold" fill="#0c1838" stroke="#0c1838" stroke-width="0.3" textLength="46.7" lengthAdjust="spacingAndGlyphs">CSGQGPSYNE</text><text x="291.6" y="99.2" font-size="8.6" font-weight="bold" fill="#0c1838" stroke="#0c1838" stroke-width="0.3" textLength="42" lengthAdjust="spacingAndGlyphs">CSASGNNNE</text><text x="291.6" y="109.2" font-size="8.6" font-weight="bold" fill="#0c1838" stroke="#0c1838" stroke-width="0.3" textLength="58.8" lengthAdjust="spacingAndGlyphs">CSARLPLAGPYNE</text><text x="291.6" y="119.1" font-size="8.6" font-weight="bold" fill="#0c1838" stroke="#0c1838" stroke-width="0.3" textLength="46" lengthAdjust="spacingAndGlyphs">CSGLGTGKSE</text><text x="291.6" y="129.1" font-size="8.6" font-weight="bold" fill="#0c1838" stroke="#0c1838" stroke-width="0.3" textLength="51.1" lengthAdjust="spacingAndGlyphs">CSASFGQDKNE</text><text x="291.6" y="139.1" font-size="8.6" font-weight="bold" fill="#0c1838" stroke="#0c1838" stroke-width="0.3" textLength="46.2" lengthAdjust="spacingAndGlyphs">CSPLISGTAKE</text><text x="291.6" y="149" font-size="8.6" font-weight="bold" fill="#0c1838" stroke="#0c1838" stroke-width="0.3" textLength="55.4" lengthAdjust="spacingAndGlyphs">CSARYAGTGMYE</text><text x="291.6" y="159" font-size="8.6" font-weight="bold" fill="#0c1838" stroke="#0c1838" stroke-width="0.3" textLength="54.5" lengthAdjust="spacingAndGlyphs">CSASPLAGRYNE</text><text x="291.6" y="168.9" font-size="8.6" font-weight="bold" fill="#0c1838" stroke="#0c1838" stroke-width="0.3" textLength="52.9" lengthAdjust="spacingAndGlyphs">CSARGWEGLGE</text><text x="291.6" y="178.9" font-size="8.6" font-weight="bold" fill="#0c1838" stroke="#0c1838" stroke-width="0.3" textLength="49" lengthAdjust="spacingAndGlyphs">CSARFYASYNE</text><text x="291.6" y="188.9" font-size="8.6" font-weight="bold" fill="#0c1838" stroke="#0c1838" stroke-width="0.3" textLength="46" lengthAdjust="spacingAndGlyphs">CSARKSGTNE</text><text x="291.6" y="198.8" font-size="8.6" font-weight="bold" fill="#0c1838" stroke="#0c1838" stroke-width="0.3" textLength="46.2" lengthAdjust="spacingAndGlyphs">CSAPASGRGE</text><text x="291.6" y="208.8" font-size="8.6" font-weight="bold" fill="#0c1838" stroke="#0c1838" stroke-width="0.3" textLength="52.2" lengthAdjust="spacingAndGlyphs">CSARDRRTIYNE</text><text x="291.6" y="218.7" font-size="8.6" font-weight="bold" fill="#0c1838" stroke="#0c1838" stroke-width="0.3" textLength="49.3" lengthAdjust="spacingAndGlyphs">CSALGTERFNE</text><rect x="445.1" y="1.6" width="70.5" height="9.8" fill="#000"/><rect x="445.1" y="11.4" width="70.5" height="20" fill="#7a087e"/><rect x="445.1" y="31.4" width="70.5" height="152.2" fill="#c49cf6"/><text x="447.3" y="10.4" font-size="9.3" font-weight="bold" fill="#fff" stroke="#fff" stroke-width="0.25" textLength="63.5" lengthAdjust="spacingAndGlyphs">TRBV 20-1 TRBJ2-7</text><text x="447.3" y="20.2" font-size="8.4" font-weight="bold" fill="#f4d6f4" textLength="56.6" lengthAdjust="spacingAndGlyphs">Unique seqs: 1096</text><text x="447.3" y="29.2" font-size="8.4" font-weight="bold" fill="#f4d6f4" textLength="52.2" lengthAdjust="spacingAndGlyphs">Total reads: 9379</text><text x="447.3" y="39.5" font-size="8.6" font-weight="bold" fill="#1e0c30" stroke="#1e0c30" stroke-width="0.3" textLength="45.3" lengthAdjust="spacingAndGlyphs">CSALSLGAAE</text><text x="447.3" y="49.4" font-size="8.6" font-weight="bold" fill="#1e0c30" stroke="#1e0c30" stroke-width="0.3" textLength="49" lengthAdjust="spacingAndGlyphs">CSARPRDYLYE</text><text x="447.3" y="59.4" font-size="8.6" font-weight="bold" fill="#1e0c30" stroke="#1e0c30" stroke-width="0.3" textLength="48.6" lengthAdjust="spacingAndGlyphs">CSASWAGGGE</text><text x="447.3" y="69.4" font-size="8.6" font-weight="bold" fill="#1e0c30" stroke="#1e0c30" stroke-width="0.3" textLength="41.6" lengthAdjust="spacingAndGlyphs">CSAGDNSYE</text><text x="447.3" y="79.3" font-size="8.6" font-weight="bold" fill="#1e0c30" stroke="#1e0c30" stroke-width="0.3" textLength="54" lengthAdjust="spacingAndGlyphs">CSARESGTVSYE</text><text x="447.3" y="89.2" font-size="8.6" font-weight="bold" fill="#1e0c30" stroke="#1e0c30" stroke-width="0.3" textLength="43.4" lengthAdjust="spacingAndGlyphs">CSAIQGRFYE</text><text x="447.3" y="99.2" font-size="8.6" font-weight="bold" fill="#1e0c30" stroke="#1e0c30" stroke-width="0.3" textLength="45.8" lengthAdjust="spacingAndGlyphs">CSASDSQRYE</text><text x="447.3" y="109.2" font-size="8.6" font-weight="bold" fill="#1e0c30" stroke="#1e0c30" stroke-width="0.3" textLength="50.4" lengthAdjust="spacingAndGlyphs">CSARDDGLPYE</text><text x="447.3" y="119.1" font-size="8.6" font-weight="bold" fill="#1e0c30" stroke="#1e0c30" stroke-width="0.3" textLength="64.3" lengthAdjust="spacingAndGlyphs">CSAREPPRTGGNYE</text><text x="447.3" y="129.1" font-size="8.6" font-weight="bold" fill="#1e0c30" stroke="#1e0c30" stroke-width="0.3" textLength="56.9" lengthAdjust="spacingAndGlyphs">CSAPMPDRGRGE</text><text x="447.3" y="139" font-size="8.6" font-weight="bold" fill="#1e0c30" stroke="#1e0c30" stroke-width="0.3" textLength="54.4" lengthAdjust="spacingAndGlyphs">CSARGLLGVSYE</text><text x="447.3" y="148.9" font-size="8.6" font-weight="bold" fill="#1e0c30" stroke="#1e0c30" stroke-width="0.3" textLength="58.4" lengthAdjust="spacingAndGlyphs">CSARHFLGRFSYE</text><text x="447.3" y="158.9" font-size="8.6" font-weight="bold" fill="#1e0c30" stroke="#1e0c30" stroke-width="0.3" textLength="50.7" lengthAdjust="spacingAndGlyphs">CSARRAGESYE</text><text x="447.3" y="168.8" font-size="8.6" font-weight="bold" fill="#1e0c30" stroke="#1e0c30" stroke-width="0.3" textLength="50.7" lengthAdjust="spacingAndGlyphs">CSARPQGTHYE</text><text x="447.3" y="178.8" font-size="8.6" font-weight="bold" fill="#1e0c30" stroke="#1e0c30" stroke-width="0.3" textLength="50.3" lengthAdjust="spacingAndGlyphs">CSATPGQGPYE</text>
<polyline points="92.3,56.3 130.3,56.3 130.3,248.5 112.4,258.5" fill="none" stroke="#2a2a2a" stroke-width="1.05"/><polyline points="83.2,66.3 128.4,66.3 128.4,248.7 112.4,258.5" fill="none" stroke="#2a2a2a" stroke-width="1.05"/><polyline points="98.4,76.2 126.5,76.2 126.5,248.9 112.5,258.5" fill="none" stroke="#2a2a2a" stroke-width="1.05"/><polyline points="102.2,86.2 124.6,86.2 124.6,249.1 112.6,258.5" fill="none" stroke="#2a2a2a" stroke-width="1.05"/><polyline points="92.9,96.1 122.7,96.1 122.7,249.3 112.6,258.5" fill="none" stroke="#2a2a2a" stroke-width="1.05"/><polyline points="112.2,106.1 120.8,106.1 120.8,249.5 112.7,258.5" fill="none" stroke="#2a2a2a" stroke-width="1.05"/><polyline points="110.8,116.1 118.9,116.1 118.9,249.7 112.7,258.5" fill="none" stroke="#2a2a2a" stroke-width="1.05"/><polyline points="114.1,126 117,126 117,249.9 112.8,258.5" fill="none" stroke="#2a2a2a" stroke-width="1.05"/><polyline points="115.2,136 115.1,136 115.1,250.1 112.9,258.5" fill="none" stroke="#2a2a2a" stroke-width="1.05"/><polyline points="112.2,145.9 113.2,145.9 113.2,250.3 112.9,258.5" fill="none" stroke="#2a2a2a" stroke-width="1.05"/><polyline points="101.3,155.9 111.3,155.9 111.3,250.5 113,258.5" fill="none" stroke="#2a2a2a" stroke-width="1.05"/><polyline points="98.7,165.9 109.4,165.9 109.4,250.7 113,258.5" fill="none" stroke="#2a2a2a" stroke-width="1.05"/><polyline points="102.2,175.8 107.5,175.8 107.5,250.9 113.1,258.5" fill="none" stroke="#2a2a2a" stroke-width="1.05"/><polyline points="102.8,185.8 105.6,185.8 105.6,251.1 113.2,258.5" fill="none" stroke="#2a2a2a" stroke-width="1.05"/><polyline points="88.5,195.7 103.7,195.7 103.7,251.3 113.2,258.5" fill="none" stroke="#2a2a2a" stroke-width="1.05"/><polyline points="202.8,36.2 237.4,36.2 237.4,126 233.5,134" fill="none" stroke="#111" stroke-width="1.0"/><polyline points="203.5,46.1 235.3,46.1 235.3,126.6 233.5,134" fill="none" stroke="#111" stroke-width="1.0"/><polyline points="198.8,56.1 233.3,56.1 233.3,127.2 233.5,134" fill="none" stroke="#111" stroke-width="1.0"/><polyline points="193,66 231.2,66 231.2,127.8 233.5,134" fill="none" stroke="#111" stroke-width="1.0"/><polyline points="203.2,76 229.2,76 229.2,128.4 233.5,134" fill="none" stroke="#111" stroke-width="1.0"/><polyline points="205.4,85.9 227.2,85.9 227.2,129 233.5,134" fill="none" stroke="#111" stroke-width="1.0"/><polyline points="202.3,95.8 225.1,95.8 225.1,129.6 233.5,134" fill="none" stroke="#111" stroke-width="1.0"/><polyline points="207.7,105.8 223.1,105.8 223.1,130.2 233.5,134" fill="none" stroke="#111" stroke-width="1.0"/><polyline points="197.6,115.7 221,115.7 221,130.8 233.5,134" fill="none" stroke="#111" stroke-width="1.0"/><polyline points="207.9,125.7 219,125.7 219,131.4 233.5,134" fill="none" stroke="#111" stroke-width="1.0"/><polyline points="207.6,135.6 216.9,135.6 216.9,135.6 233.5,134" fill="none" stroke="#111" stroke-width="1.0"/><polyline points="212.7,145.5 224,145.5 233.5,134" fill="none" stroke="#111" stroke-width="1.0"/><polyline points="208.3,155.5 225,155.5 233.5,134" fill="none" stroke="#111" stroke-width="1.0"/><polyline points="207.6,165.4 226,165.4 233.5,134" fill="none" stroke="#111" stroke-width="1.0"/><polyline points="193.3,175.4 227,175.4 233.5,134" fill="none" stroke="#111" stroke-width="1.0"/><polyline points="355.3,76.9 369,76.9 369,151 409.5,151" fill="none" stroke="#111" stroke-width="1.0"/><polyline points="342.9,86.9 368,86.9 368,152.7 409.5,152.7" fill="none" stroke="#111" stroke-width="1.0"/><polyline points="338.2,96.8 367,96.8 367,154.4 409.5,154.4" fill="none" stroke="#111" stroke-width="1.0"/><polyline points="355,106.8 366,106.8 366,156.2 409.5,156.2" fill="none" stroke="#111" stroke-width="1.0"/><polyline points="342.2,116.7 365,116.7 365,157.9 409.5,157.9" fill="none" stroke="#111" stroke-width="1.0"/><polyline points="347.3,126.7 364,126.7 364,159.6 409.5,159.6" fill="none" stroke="#111" stroke-width="1.0"/><polyline points="342.4,136.7 363,136.7 363,161.3 409.5,161.3" fill="none" stroke="#111" stroke-width="1.0"/><polyline points="351.6,146.6 362,146.6 362,163 409.5,163" fill="none" stroke="#111" stroke-width="1.0"/><polyline points="350.7,156.6 361,156.6 361,164.8 409.5,164.8" fill="none" stroke="#111" stroke-width="1.0"/><polyline points="349.1,166.5 358.2,166.5 358.2,166.5 409.5,166.5" fill="none" stroke="#111" stroke-width="1.0"/><polyline points="345.2,176.5 359.1,176.5 359.1,168.2 409.5,168.2" fill="none" stroke="#111" stroke-width="1.0"/><polyline points="342.2,186.5 359.9,186.5 359.9,169.9 409.5,169.9" fill="none" stroke="#111" stroke-width="1.0"/><polyline points="342.4,196.4 360.8,196.4 360.8,171.6 409.5,171.6" fill="none" stroke="#111" stroke-width="1.0"/><polyline points="348.4,206.4 361.6,206.4 361.6,173.4 409.5,173.4" fill="none" stroke="#111" stroke-width="1.0"/><polyline points="345.5,216.3 362.4,216.3 362.4,175.1 409.5,175.1" fill="none" stroke="#111" stroke-width="1.0"/><polyline points="445.1,37.1 423.8,37.1 423.8,89" fill="none" stroke="#111" stroke-width="1.0"/><polyline points="445.1,47 425.3,47 425.3,89" fill="none" stroke="#111" stroke-width="1.0"/><polyline points="445.1,57 426.8,57 426.8,89" fill="none" stroke="#111" stroke-width="1.0"/><polyline points="445.1,67 428.3,67 428.3,89" fill="none" stroke="#111" stroke-width="1.0"/><polyline points="445.1,76.9 429.8,76.9 429.8,89" fill="none" stroke="#111" stroke-width="1.0"/><polyline points="445.1,86.8 431.3,86.8 431.3,89" fill="none" stroke="#111" stroke-width="1.0"/><polyline points="445.1,96.8 432.5,96.8 432.5,92 430,92" fill="none" stroke="#111" stroke-width="1.0"/><polyline points="445.1,106.8 433.8,106.8 433.8,93 430,93" fill="none" stroke="#111" stroke-width="1.0"/><polyline points="445.1,116.7 435.1,116.7 435.1,94 430,94" fill="none" stroke="#111" stroke-width="1.0"/><polyline points="445.1,126.7 436.4,126.7 436.4,95 430,95" fill="none" stroke="#111" stroke-width="1.0"/><polyline points="445.1,136.6 437.7,136.6 437.7,96 430,96" fill="none" stroke="#111" stroke-width="1.0"/><polyline points="445.1,146.5 439,146.5 439,97 430,97" fill="none" stroke="#111" stroke-width="1.0"/><polyline points="445.1,156.5 440.3,156.5 440.3,98 430,98" fill="none" stroke="#111" stroke-width="1.0"/><polyline points="445.1,166.4 441.6,166.4 441.6,99 430,99" fill="none" stroke="#111" stroke-width="1.0"/><polyline points="445.1,176.4 442.9,176.4 442.9,100 430,100" fill="none" stroke="#111" stroke-width="1.0"/>
</svg></body></html>
